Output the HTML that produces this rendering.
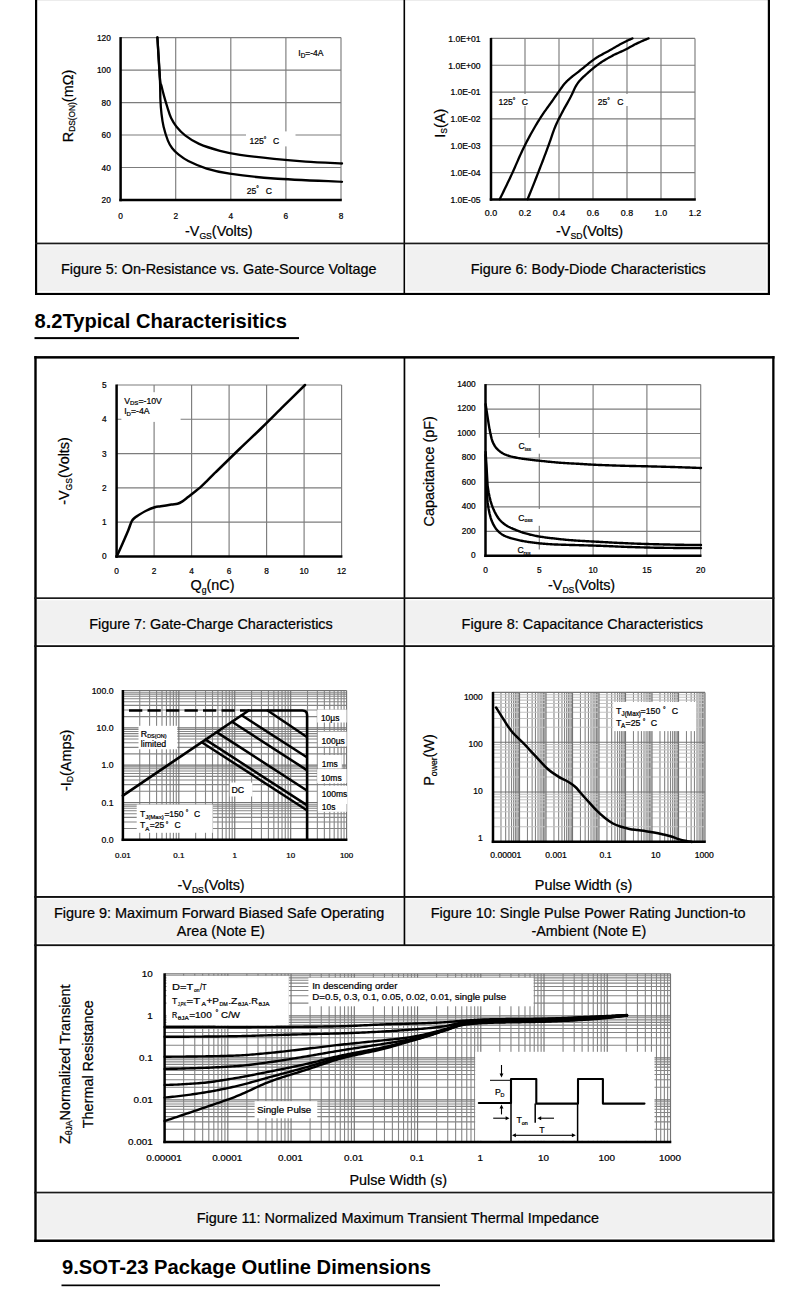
<!DOCTYPE html>
<html><head><meta charset="utf-8"><style>
html,body{margin:0;padding:0;background:#fff;overflow:hidden;}
svg{display:block;}
text{font-family:"Liberation Sans", sans-serif;stroke:#000;stroke-width:0.22px;}
</style></head><body>
<svg width="790" height="1303" viewBox="0 0 790 1303">
<rect x="0" y="0" width="790" height="1303" fill="#fff"/>
<rect x="38.00" y="245.50" width="365.00" height="45.50" fill="#f1f1f1"/>
<rect x="406.50" y="245.50" width="360.00" height="45.50" fill="#f1f1f1"/>
<rect x="37.00" y="0.00" width="731.00" height="1.00" fill="#ececec"/>
<rect x="35.00" y="0.00" width="2.20" height="295.00" fill="#000"/>
<rect x="767.80" y="0.00" width="2.20" height="295.00" fill="#000"/>
<rect x="403.50" y="0.00" width="1.60" height="294.00" fill="#000"/>
<rect x="35.00" y="242.60" width="735.00" height="1.70" fill="#1a1a1a"/>
<rect x="35.00" y="292.90" width="735.00" height="2.10" fill="#000"/>
<text x="34.50" y="327.70" font-size="20.1" text-anchor="start" font-weight="bold" fill="#000" textLength="252.50" lengthAdjust="spacingAndGlyphs" style="stroke-width:0">8.2Typical Characterisitics</text>
<rect x="34.50" y="337.10" width="264.50" height="2.00" fill="#000"/>
<rect x="37.00" y="600.30" width="366.00" height="43.30" fill="#f1f1f1"/>
<rect x="406.00" y="600.30" width="365.00" height="43.30" fill="#f1f1f1"/>
<rect x="37.00" y="899.30" width="366.00" height="43.40" fill="#f1f1f1"/>
<rect x="406.00" y="899.30" width="365.00" height="43.40" fill="#f1f1f1"/>
<rect x="37.50" y="1194.60" width="733.50" height="43.30" fill="#f1f1f1"/>
<rect x="34.30" y="356.10" width="740.20" height="2.50" fill="#000"/>
<rect x="34.30" y="356.10" width="2.40" height="886.00" fill="#000"/>
<rect x="772.20" y="356.10" width="2.30" height="886.00" fill="#000"/>
<rect x="34.30" y="1239.50" width="740.20" height="2.50" fill="#000"/>
<rect x="403.60" y="357.00" width="1.70" height="589.00" fill="#000"/>
<rect x="34.30" y="597.30" width="740.00" height="1.70" fill="#1a1a1a"/>
<rect x="34.30" y="645.20" width="740.00" height="1.80" fill="#111"/>
<rect x="34.30" y="896.00" width="740.00" height="1.90" fill="#111"/>
<rect x="34.30" y="944.30" width="740.00" height="1.80" fill="#111"/>
<rect x="34.30" y="1191.70" width="740.00" height="1.70" fill="#1a1a1a"/>
<text x="62.00" y="1274.20" font-size="20.2" text-anchor="start" font-weight="bold" fill="#000" textLength="369.00" lengthAdjust="spacingAndGlyphs" style="stroke-width:0">9.SOT-23 Package Outline Dimensions</text>
<rect x="61.50" y="1284.50" width="378.50" height="1.70" fill="#000"/>
<text x="61.00" y="273.80" font-size="14.4" text-anchor="start" font-weight="normal" fill="#000" textLength="315.50" lengthAdjust="spacingAndGlyphs" >Figure 5: On-Resistance vs. Gate-Source Voltage</text>
<text x="470.80" y="273.60" font-size="14.4" text-anchor="start" font-weight="normal" fill="#000" textLength="235.00" lengthAdjust="spacingAndGlyphs" >Figure 6: Body-Diode Characteristics</text>
<text x="89.20" y="629.10" font-size="14.4" text-anchor="start" font-weight="normal" fill="#000" textLength="243.60" lengthAdjust="spacingAndGlyphs" >Figure 7: Gate-Charge Characteristics</text>
<text x="461.60" y="628.80" font-size="14.4" text-anchor="start" font-weight="normal" fill="#000" textLength="241.40" lengthAdjust="spacingAndGlyphs" >Figure 8: Capacitance Characteristics</text>
<text x="54.00" y="917.50" font-size="14.4" text-anchor="start" font-weight="normal" fill="#000" textLength="330.30" lengthAdjust="spacingAndGlyphs" >Figure 9: Maximum Forward Biased Safe Operating</text>
<text x="176.80" y="936.30" font-size="14.4" text-anchor="start" font-weight="normal" fill="#000" textLength="88.00" lengthAdjust="spacingAndGlyphs" >Area (Note E)</text>
<text x="430.80" y="917.50" font-size="14.4" text-anchor="start" font-weight="normal" fill="#000" textLength="314.70" lengthAdjust="spacingAndGlyphs" >Figure 10: Single Pulse Power Rating Junction-to</text>
<text x="531.50" y="936.30" font-size="14.4" text-anchor="start" font-weight="normal" fill="#000" textLength="114.70" lengthAdjust="spacingAndGlyphs" >-Ambient (Note E)</text>
<text x="196.70" y="1223.00" font-size="14.4" text-anchor="start" font-weight="normal" fill="#000" textLength="402.30" lengthAdjust="spacingAndGlyphs" >Figure 11: Normalized Maximum Transient Thermal Impedance</text>
<line x1="175.70" y1="37.60" x2="175.70" y2="200.00" stroke="#7c7c7c" stroke-width="1.15" />
<line x1="230.80" y1="37.60" x2="230.80" y2="200.00" stroke="#7c7c7c" stroke-width="1.15" />
<line x1="285.90" y1="37.60" x2="285.90" y2="200.00" stroke="#7c7c7c" stroke-width="1.15" />
<line x1="341.00" y1="37.60" x2="341.00" y2="200.00" stroke="#7c7c7c" stroke-width="1.15" />
<line x1="120.60" y1="167.52" x2="341.00" y2="167.52" stroke="#7c7c7c" stroke-width="1.15" />
<line x1="120.60" y1="135.04" x2="341.00" y2="135.04" stroke="#7c7c7c" stroke-width="1.15" />
<line x1="120.60" y1="102.56" x2="341.00" y2="102.56" stroke="#7c7c7c" stroke-width="1.15" />
<line x1="120.60" y1="70.08" x2="341.00" y2="70.08" stroke="#7c7c7c" stroke-width="1.15" />
<line x1="120.60" y1="37.60" x2="341.00" y2="37.60" stroke="#7c7c7c" stroke-width="1.15" />
<rect x="246.00" y="131.40" width="49.50" height="15.00" fill="#fff"/>
<path d="M157.40,37.50 C157.82,44.30 159.22,70.23 159.90,78.30 C160.58,86.37 160.78,82.85 161.50,85.90 C162.22,88.95 163.22,93.03 164.20,96.60 C165.18,100.17 166.25,103.72 167.40,107.30 C168.55,110.88 169.58,114.87 171.10,118.10 C172.62,121.33 174.17,123.83 176.50,126.70 C178.83,129.57 181.33,132.43 185.10,135.30 C188.87,138.17 193.28,141.32 199.10,143.90 C204.92,146.48 213.18,148.98 220.00,150.80 C226.82,152.62 231.00,153.45 240.00,154.80 C249.00,156.15 263.05,157.75 274.00,158.90 C284.95,160.05 294.37,160.93 305.70,161.70 C317.03,162.47 335.95,163.20 342.00,163.50" fill="none" stroke="#000" stroke-width="2.3" stroke-linejoin="round" stroke-linecap="round" />
<path d="M157.40,37.50 C157.82,44.30 159.40,67.92 159.90,78.30 C160.40,88.68 160.13,93.88 160.40,99.80 C160.67,105.72 160.97,109.32 161.50,113.80 C162.03,118.28 162.53,122.23 163.60,126.70 C164.67,131.17 166.47,137.02 167.90,140.60 C169.33,144.18 170.40,145.87 172.20,148.20 C174.00,150.53 176.02,152.47 178.70,154.60 C181.38,156.73 183.65,158.67 188.30,161.00 C192.95,163.33 199.70,166.48 206.60,168.60 C213.50,170.72 218.47,172.05 229.70,173.70 C240.93,175.35 255.28,177.15 274.00,178.50 C292.72,179.85 330.67,181.25 342.00,181.80" fill="none" stroke="#000" stroke-width="2.3" stroke-linejoin="round" stroke-linecap="round" />
<line x1="120.60" y1="37.10" x2="120.60" y2="201.25" stroke="#000" stroke-width="2.5" />
<line x1="119.35" y1="200.00" x2="341.80" y2="200.00" stroke="#000" stroke-width="2.5" />
<text x="110.80" y="203.00" font-size="8.3" text-anchor="end" font-weight="normal" fill="#000" >20</text>
<text x="110.80" y="170.52" font-size="8.3" text-anchor="end" font-weight="normal" fill="#000" >40</text>
<text x="110.80" y="138.04" font-size="8.3" text-anchor="end" font-weight="normal" fill="#000" >60</text>
<text x="110.80" y="105.56" font-size="8.3" text-anchor="end" font-weight="normal" fill="#000" >80</text>
<text x="110.80" y="73.08" font-size="8.3" text-anchor="end" font-weight="normal" fill="#000" >100</text>
<text x="110.80" y="40.60" font-size="8.3" text-anchor="end" font-weight="normal" fill="#000" >120</text>
<text x="120.60" y="218.80" font-size="8.3" text-anchor="middle" font-weight="normal" fill="#000" >0</text>
<text x="175.70" y="218.80" font-size="8.3" text-anchor="middle" font-weight="normal" fill="#000" >2</text>
<text x="230.80" y="218.80" font-size="8.3" text-anchor="middle" font-weight="normal" fill="#000" >4</text>
<text x="285.90" y="218.80" font-size="8.3" text-anchor="middle" font-weight="normal" fill="#000" >6</text>
<text x="341.00" y="218.80" font-size="8.3" text-anchor="middle" font-weight="normal" fill="#000" >8</text>
<text x="249.50" y="144.20" text-anchor="start" ><tspan font-size="8.60" dy="0">125</tspan><tspan font-size="6.45" dy="-2.5">°</tspan></text>
<text x="272.90" y="144.20" font-size="8.6" text-anchor="start" font-weight="normal" fill="#000" >C</text>
<text x="246.70" y="193.60" text-anchor="start" ><tspan font-size="8.60" dy="0">25</tspan><tspan font-size="6.45" dy="-2.5">°</tspan></text>
<text x="265.70" y="193.60" font-size="8.6" text-anchor="start" font-weight="normal" fill="#000" >C</text>
<text x="298.30" y="56.20" text-anchor="start" ><tspan font-size="8.50" dy="0">I</tspan><tspan font-size="6.38" dy="2">D</tspan><tspan font-size="8.50" dy="-2">=-4A</tspan></text>
<text x="0" y="0" text-anchor="middle" transform="translate(72.50,106.00) rotate(-90)"><tspan font-size="14.40" dy="0">R</tspan><tspan font-size="8.35" dy="2.5">DS(ON)</tspan><tspan font-size="14.40" dy="-2.5">(mΩ)</tspan></text>
<text x="185.00" y="236.00" text-anchor="start" ><tspan font-size="14.40" dy="0">-V</tspan><tspan font-size="8.64" dy="2.5">GS</tspan><tspan font-size="14.40" dy="-2.5">(Volts)</tspan></text>
<line x1="525.00" y1="38.40" x2="525.00" y2="199.40" stroke="#7c7c7c" stroke-width="1.15" />
<line x1="559.00" y1="38.40" x2="559.00" y2="199.40" stroke="#7c7c7c" stroke-width="1.15" />
<line x1="593.00" y1="38.40" x2="593.00" y2="199.40" stroke="#7c7c7c" stroke-width="1.15" />
<line x1="627.00" y1="38.40" x2="627.00" y2="199.40" stroke="#7c7c7c" stroke-width="1.15" />
<line x1="661.00" y1="38.40" x2="661.00" y2="199.40" stroke="#7c7c7c" stroke-width="1.15" />
<line x1="695.00" y1="38.40" x2="695.00" y2="199.40" stroke="#7c7c7c" stroke-width="1.15" />
<line x1="491.00" y1="38.40" x2="695.00" y2="38.40" stroke="#7c7c7c" stroke-width="1.15" />
<line x1="491.00" y1="65.23" x2="695.00" y2="65.23" stroke="#7c7c7c" stroke-width="1.15" />
<line x1="491.00" y1="92.07" x2="695.00" y2="92.07" stroke="#7c7c7c" stroke-width="1.15" />
<line x1="491.00" y1="118.90" x2="695.00" y2="118.90" stroke="#7c7c7c" stroke-width="1.15" />
<line x1="491.00" y1="145.73" x2="695.00" y2="145.73" stroke="#7c7c7c" stroke-width="1.15" />
<line x1="491.00" y1="172.57" x2="695.00" y2="172.57" stroke="#7c7c7c" stroke-width="1.15" />
<rect x="495.00" y="94.00" width="36.00" height="12.00" fill="#fff"/>
<rect x="594.00" y="94.00" width="34.00" height="12.00" fill="#fff"/>
<path d="M499.70,199.20 L500.70,197.20 L501.70,195.19 L502.70,193.16 L503.70,191.13 L504.70,189.08 L505.70,187.02 L506.70,184.95 L507.70,182.86 L508.70,180.76 L509.70,178.65 L510.70,176.53 L511.70,174.38 L512.70,172.18 L513.70,169.95 L514.70,167.69 L515.70,165.41 L516.70,163.13 L517.70,160.85 L518.70,158.57 L519.70,156.32 L520.70,154.10 L521.70,151.92 L522.70,149.78 L523.70,147.71 L524.70,145.70 L525.70,143.72 L526.70,141.77 L527.70,139.86 L528.70,137.97 L529.70,136.11 L530.70,134.28 L531.70,132.48 L532.70,130.70 L533.70,128.95 L534.70,127.23 L535.70,125.53 L536.70,123.86 L537.70,122.22 L538.70,120.60 L539.70,119.01 L540.70,117.45 L541.70,115.91 L542.70,114.40 L543.70,112.92 L544.70,111.47 L545.70,110.06 L546.70,108.66 L547.70,107.28 L548.70,105.91 L549.70,104.53 L550.70,103.14 L551.70,101.73 L552.70,100.31 L553.70,98.88 L554.70,97.45 L555.70,96.03 L556.70,94.61 L557.70,93.20 L558.70,91.80 L559.70,90.36 L560.70,88.91 L561.70,87.47 L562.70,86.07 L563.70,84.76 L564.70,83.54 L565.70,82.44 L566.70,81.42 L567.70,80.46 L568.70,79.55 L569.70,78.68 L570.70,77.81 L571.70,76.98 L572.70,76.19 L573.70,75.42 L574.70,74.67 L575.70,73.91 L576.70,73.14 L577.70,72.34 L578.70,71.55 L579.70,70.74 L580.70,69.94 L581.70,69.14 L582.70,68.34 L583.70,67.54 L584.70,66.73 L585.70,65.91 L586.70,65.09 L587.70,64.27 L588.70,63.45 L589.70,62.64 L590.70,61.84 L591.70,61.06 L592.70,60.30 L593.70,59.57 L594.70,58.87 L595.70,58.20 L596.70,57.57 L597.70,56.95 L598.70,56.36 L599.70,55.78 L600.70,55.22 L601.70,54.67 L602.70,54.13 L603.70,53.59 L604.70,53.06 L605.70,52.52 L606.70,51.99 L607.70,51.45 L608.70,50.90 L609.70,50.34 L610.70,49.78 L611.70,49.20 L612.70,48.62 L613.70,48.04 L614.70,47.46 L615.70,46.87 L616.70,46.29 L617.70,45.72 L618.70,45.15 L619.70,44.58 L620.70,44.03 L621.70,43.49 L622.70,42.96 L623.70,42.45 L624.70,41.95 L625.70,41.46 L626.70,40.99 L627.70,40.52 L628.70,40.06 L629.70,39.61 L630.70,39.17 L631.70,38.74 L632.50,38.40" fill="none" stroke="#000" stroke-width="2.3" stroke-linejoin="round" stroke-linecap="round" />
<path d="M527.60,199.20 L528.60,196.76 L529.60,194.30 L530.60,191.83 L531.60,189.35 L532.60,186.85 L533.60,184.34 L534.60,181.82 L535.60,179.29 L536.60,176.75 L537.60,174.19 L538.60,171.62 L539.60,169.04 L540.60,166.45 L541.60,163.84 L542.60,161.23 L543.60,158.60 L544.60,155.95 L545.60,153.30 L546.60,150.62 L547.60,147.93 L548.60,145.23 L549.60,142.43 L550.60,139.53 L551.60,136.60 L552.60,133.69 L553.60,130.88 L554.60,128.21 L555.60,125.77 L556.60,123.51 L557.60,121.37 L558.60,119.33 L559.60,117.36 L560.60,115.44 L561.60,113.53 L562.60,111.62 L563.60,109.74 L564.60,107.92 L565.60,106.13 L566.60,104.35 L567.60,102.58 L568.60,100.79 L569.60,98.96 L570.60,97.08 L571.60,95.09 L572.60,92.95 L573.60,90.74 L574.60,88.59 L575.60,86.58 L576.60,84.81 L577.60,83.33 L578.60,82.01 L579.60,80.81 L580.60,79.69 L581.60,78.63 L582.60,77.64 L583.60,76.69 L584.60,75.78 L585.60,74.89 L586.60,74.00 L587.60,73.11 L588.60,72.23 L589.60,71.35 L590.60,70.48 L591.60,69.62 L592.60,68.77 L593.60,67.93 L594.60,67.12 L595.60,66.32 L596.60,65.55 L597.60,64.80 L598.60,64.08 L599.60,63.39 L600.60,62.71 L601.60,62.05 L602.60,61.40 L603.60,60.77 L604.60,60.15 L605.60,59.54 L606.60,58.95 L607.60,58.37 L608.60,57.80 L609.60,57.24 L610.60,56.69 L611.60,56.15 L612.60,55.62 L613.60,55.09 L614.60,54.59 L615.60,54.10 L616.60,53.63 L617.60,53.17 L618.60,52.72 L619.60,52.28 L620.60,51.83 L621.60,51.38 L622.60,50.93 L623.60,50.47 L624.60,49.99 L625.60,49.50 L626.60,48.99 L627.60,48.46 L628.60,47.91 L629.60,47.35 L630.60,46.79 L631.60,46.23 L632.60,45.68 L633.60,45.13 L634.60,44.60 L635.60,44.09 L636.60,43.61 L637.60,43.13 L638.60,42.66 L639.60,42.20 L640.60,41.74 L641.60,41.29 L642.60,40.85 L643.60,40.42 L644.60,40.00 L645.60,39.59 L646.60,39.18 L647.60,38.79 L648.60,38.40" fill="none" stroke="#000" stroke-width="2.3" stroke-linejoin="round" stroke-linecap="round" />
<line x1="491.00" y1="37.90" x2="491.00" y2="200.65" stroke="#000" stroke-width="2.5" />
<line x1="489.75" y1="199.40" x2="695.80" y2="199.40" stroke="#000" stroke-width="2.5" />
<text x="480.50" y="41.70" font-size="8.6" text-anchor="end" font-weight="normal" fill="#000" >1.0E+01</text>
<text x="480.50" y="68.53" font-size="8.6" text-anchor="end" font-weight="normal" fill="#000" >1.0E+00</text>
<text x="480.50" y="95.37" font-size="8.6" text-anchor="end" font-weight="normal" fill="#000" >1.0E-01</text>
<text x="480.50" y="122.20" font-size="8.6" text-anchor="end" font-weight="normal" fill="#000" >1.0E-02</text>
<text x="480.50" y="149.03" font-size="8.6" text-anchor="end" font-weight="normal" fill="#000" >1.0E-03</text>
<text x="480.50" y="175.87" font-size="8.6" text-anchor="end" font-weight="normal" fill="#000" >1.0E-04</text>
<text x="480.50" y="202.70" font-size="8.6" text-anchor="end" font-weight="normal" fill="#000" >1.0E-05</text>
<text x="491.00" y="216.40" font-size="8.9" text-anchor="middle" font-weight="normal" fill="#000" >0.0</text>
<text x="525.00" y="216.40" font-size="8.9" text-anchor="middle" font-weight="normal" fill="#000" >0.2</text>
<text x="559.00" y="216.40" font-size="8.9" text-anchor="middle" font-weight="normal" fill="#000" >0.4</text>
<text x="593.00" y="216.40" font-size="8.9" text-anchor="middle" font-weight="normal" fill="#000" >0.6</text>
<text x="627.00" y="216.40" font-size="8.9" text-anchor="middle" font-weight="normal" fill="#000" >0.8</text>
<text x="661.00" y="216.40" font-size="8.9" text-anchor="middle" font-weight="normal" fill="#000" >1.0</text>
<text x="695.00" y="216.40" font-size="8.9" text-anchor="middle" font-weight="normal" fill="#000" >1.2</text>
<text x="498.40" y="105.00" text-anchor="start" ><tspan font-size="8.60" dy="0">125</tspan><tspan font-size="6.45" dy="-2.5">°</tspan></text>
<text x="521.70" y="105.00" font-size="8.6" text-anchor="start" font-weight="normal" fill="#000" >C</text>
<text x="597.80" y="105.00" text-anchor="start" ><tspan font-size="8.60" dy="0">25</tspan><tspan font-size="6.45" dy="-2.5">°</tspan></text>
<text x="617.20" y="105.00" font-size="8.6" text-anchor="start" font-weight="normal" fill="#000" >C</text>
<text x="0" y="0" text-anchor="middle" transform="translate(444.80,123.20) rotate(-90)"><tspan font-size="14.40" dy="0">I</tspan><tspan font-size="8.64" dy="2.5">S</tspan><tspan font-size="14.40" dy="-2.5">(A)</tspan></text>
<text x="556.00" y="236.20" text-anchor="start" ><tspan font-size="14.40" dy="0">-V</tspan><tspan font-size="8.64" dy="2.5">SD</tspan><tspan font-size="14.40" dy="-2.5">(Volts)</tspan></text>
<line x1="154.10" y1="385.00" x2="154.10" y2="556.40" stroke="#7c7c7c" stroke-width="1.15" />
<line x1="191.60" y1="385.00" x2="191.60" y2="556.40" stroke="#7c7c7c" stroke-width="1.15" />
<line x1="229.10" y1="385.00" x2="229.10" y2="556.40" stroke="#7c7c7c" stroke-width="1.15" />
<line x1="266.60" y1="385.00" x2="266.60" y2="556.40" stroke="#7c7c7c" stroke-width="1.15" />
<line x1="304.10" y1="385.00" x2="304.10" y2="556.40" stroke="#7c7c7c" stroke-width="1.15" />
<line x1="341.60" y1="385.00" x2="341.60" y2="556.40" stroke="#7c7c7c" stroke-width="1.15" />
<line x1="116.60" y1="522.12" x2="341.60" y2="522.12" stroke="#7c7c7c" stroke-width="1.15" />
<line x1="116.60" y1="487.84" x2="341.60" y2="487.84" stroke="#7c7c7c" stroke-width="1.15" />
<line x1="116.60" y1="453.56" x2="341.60" y2="453.56" stroke="#7c7c7c" stroke-width="1.15" />
<line x1="116.60" y1="419.28" x2="341.60" y2="419.28" stroke="#7c7c7c" stroke-width="1.15" />
<line x1="116.60" y1="385.00" x2="341.60" y2="385.00" stroke="#7c7c7c" stroke-width="1.15" />
<rect x="121.40" y="392.20" width="59.20" height="29.70" fill="#fff"/>
<path d="M116.70,556.60 C117.72,554.32 120.90,547.20 122.80,542.90 C124.70,538.60 126.63,534.37 128.10,530.80 C129.57,527.23 130.53,523.63 131.60,521.50 C132.67,519.37 133.43,519.00 134.50,518.00 C135.57,517.00 136.15,516.67 138.00,515.50 C139.85,514.33 142.82,512.38 145.60,511.00 C148.38,509.62 152.17,508.00 154.70,507.20 C157.23,506.40 158.02,506.63 160.80,506.20 C163.58,505.77 168.62,505.00 171.40,504.60 C174.18,504.20 175.73,504.30 177.50,503.80 C179.27,503.30 180.23,502.73 182.00,501.60 C183.77,500.47 186.07,498.55 188.10,497.00 C190.13,495.45 192.17,493.90 194.20,492.30 C196.23,490.70 198.28,489.18 200.30,487.40 C202.32,485.62 204.03,483.87 206.30,481.60 C208.57,479.33 211.87,475.82 213.90,473.80 C215.93,471.78 214.15,473.72 218.50,469.50 C222.85,465.28 232.75,455.50 240.00,448.50 C247.25,441.50 254.75,434.55 262.00,427.50 C269.25,420.45 276.33,413.28 283.50,406.20 C290.67,399.12 301.42,388.53 305.00,385.00" fill="none" stroke="#000" stroke-width="2.5" stroke-linejoin="round" stroke-linecap="round" />
<line x1="116.60" y1="384.50" x2="116.60" y2="557.65" stroke="#000" stroke-width="2.5" />
<line x1="115.35" y1="556.40" x2="342.40" y2="556.40" stroke="#000" stroke-width="2.5" />
<text x="106.60" y="559.40" font-size="8.3" text-anchor="end" font-weight="normal" fill="#000" >0</text>
<text x="106.60" y="525.12" font-size="8.3" text-anchor="end" font-weight="normal" fill="#000" >1</text>
<text x="106.60" y="490.84" font-size="8.3" text-anchor="end" font-weight="normal" fill="#000" >2</text>
<text x="106.60" y="456.56" font-size="8.3" text-anchor="end" font-weight="normal" fill="#000" >3</text>
<text x="106.60" y="422.28" font-size="8.3" text-anchor="end" font-weight="normal" fill="#000" >4</text>
<text x="106.60" y="388.00" font-size="8.3" text-anchor="end" font-weight="normal" fill="#000" >5</text>
<text x="116.60" y="574.20" font-size="8.3" text-anchor="middle" font-weight="normal" fill="#000" >0</text>
<text x="154.10" y="574.20" font-size="8.3" text-anchor="middle" font-weight="normal" fill="#000" >2</text>
<text x="191.60" y="574.20" font-size="8.3" text-anchor="middle" font-weight="normal" fill="#000" >4</text>
<text x="229.10" y="574.20" font-size="8.3" text-anchor="middle" font-weight="normal" fill="#000" >6</text>
<text x="266.60" y="574.20" font-size="8.3" text-anchor="middle" font-weight="normal" fill="#000" >8</text>
<text x="304.10" y="574.20" font-size="8.3" text-anchor="middle" font-weight="normal" fill="#000" >10</text>
<text x="341.60" y="574.20" font-size="8.3" text-anchor="middle" font-weight="normal" fill="#000" >12</text>
<text x="124.20" y="403.60" text-anchor="start" ><tspan font-size="8.70" dy="0">V</tspan><tspan font-size="6.09" dy="1.5">DS</tspan><tspan font-size="8.70" dy="-1.5">=-10V</tspan></text>
<text x="124.20" y="414.20" text-anchor="start" ><tspan font-size="8.70" dy="0">I</tspan><tspan font-size="6.09" dy="1.5">D</tspan><tspan font-size="8.70" dy="-1.5">=-4A</tspan></text>
<text x="0" y="0" text-anchor="middle" transform="translate(69.30,471.00) rotate(-90)"><tspan font-size="14.40" dy="0">-V</tspan><tspan font-size="8.64" dy="2.5">GS</tspan><tspan font-size="14.40" dy="-2.5">(Volts)</tspan></text>
<text x="190.50" y="590.00" text-anchor="start" ><tspan font-size="14.40" dy="0">Q</tspan><tspan font-size="8.64" dy="2.5">g</tspan><tspan font-size="14.40" dy="-2.5">(nC)</tspan></text>
<line x1="539.30" y1="384.60" x2="539.30" y2="555.80" stroke="#7c7c7c" stroke-width="1.15" />
<line x1="593.10" y1="384.60" x2="593.10" y2="555.80" stroke="#7c7c7c" stroke-width="1.15" />
<line x1="646.90" y1="384.60" x2="646.90" y2="555.80" stroke="#7c7c7c" stroke-width="1.15" />
<line x1="700.70" y1="384.60" x2="700.70" y2="555.80" stroke="#7c7c7c" stroke-width="1.15" />
<line x1="485.50" y1="531.34" x2="700.70" y2="531.34" stroke="#7c7c7c" stroke-width="1.15" />
<line x1="485.50" y1="506.89" x2="700.70" y2="506.89" stroke="#7c7c7c" stroke-width="1.15" />
<line x1="485.50" y1="482.43" x2="700.70" y2="482.43" stroke="#7c7c7c" stroke-width="1.15" />
<line x1="485.50" y1="457.97" x2="700.70" y2="457.97" stroke="#7c7c7c" stroke-width="1.15" />
<line x1="485.50" y1="433.51" x2="700.70" y2="433.51" stroke="#7c7c7c" stroke-width="1.15" />
<line x1="485.50" y1="409.06" x2="700.70" y2="409.06" stroke="#7c7c7c" stroke-width="1.15" />
<line x1="485.50" y1="384.60" x2="700.70" y2="384.60" stroke="#7c7c7c" stroke-width="1.15" />
<rect x="515.00" y="437.70" width="28.00" height="16.00" fill="#fff"/>
<rect x="515.00" y="509.00" width="28.00" height="16.80" fill="#fff"/>
<rect x="515.00" y="549.50" width="28.00" height="5.50" fill="#fff"/>
<path d="M485.60,404.30 L486.60,410.78 L487.60,417.13 L488.60,423.69 L489.60,429.60 L490.60,434.38 L491.60,438.61 L492.60,441.82 L493.60,443.97 L494.60,445.72 L495.60,447.17 L496.60,448.37 L497.60,449.39 L498.60,450.32 L499.60,451.16 L500.60,451.93 L501.60,452.63 L502.60,453.25 L503.60,453.80 L504.60,454.27 L505.60,454.69 L506.60,455.07 L507.60,455.42 L508.60,455.75 L509.60,456.05 L510.60,456.34 L511.60,456.60 L512.60,456.84 L513.60,457.08 L514.60,457.29 L515.60,457.50 L516.60,457.70 L517.60,457.89 L518.60,458.07 L519.60,458.24 L520.60,458.40 L521.60,458.56 L522.60,458.71 L523.60,458.85 L524.60,458.99 L525.60,459.13 L526.60,459.26 L527.60,459.39 L528.60,459.52 L529.60,459.65 L530.60,459.77 L531.60,459.90 L532.60,460.02 L533.60,460.13 L534.60,460.24 L535.60,460.35 L536.60,460.46 L537.60,460.56 L538.60,460.67 L539.60,460.77 L540.60,460.87 L541.60,460.98 L542.60,461.08 L543.60,461.18 L544.60,461.29 L545.60,461.39 L546.60,461.49 L547.60,461.59 L548.60,461.69 L549.60,461.79 L550.60,461.89 L551.60,461.99 L552.60,462.08 L553.60,462.18 L554.60,462.27 L555.60,462.36 L556.60,462.44 L557.60,462.53 L558.60,462.61 L559.60,462.69 L560.60,462.76 L561.60,462.84 L562.60,462.90 L563.60,462.97 L564.60,463.03 L565.60,463.10 L566.60,463.16 L567.60,463.21 L568.60,463.27 L569.60,463.33 L570.60,463.38 L571.60,463.44 L572.60,463.49 L573.60,463.54 L574.60,463.60 L575.60,463.65 L576.60,463.71 L577.60,463.76 L578.60,463.82 L579.60,463.88 L580.60,463.94 L581.60,464.00 L582.60,464.06 L583.60,464.13 L584.60,464.19 L585.60,464.26 L586.60,464.32 L587.60,464.39 L588.60,464.45 L589.60,464.51 L590.60,464.57 L591.60,464.62 L592.60,464.67 L593.60,464.72 L594.60,464.76 L595.60,464.81 L596.60,464.85 L597.60,464.90 L598.60,464.94 L599.60,464.98 L600.60,465.02 L601.60,465.06 L602.60,465.10 L603.60,465.14 L604.60,465.17 L605.60,465.21 L606.60,465.25 L607.60,465.28 L608.60,465.32 L609.60,465.35 L610.60,465.39 L611.60,465.42 L612.60,465.45 L613.60,465.48 L614.60,465.52 L615.60,465.55 L616.60,465.58 L617.60,465.61 L618.60,465.64 L619.60,465.67 L620.60,465.69 L621.60,465.72 L622.60,465.75 L623.60,465.78 L624.60,465.81 L625.60,465.83 L626.60,465.86 L627.60,465.88 L628.60,465.91 L629.60,465.93 L630.60,465.95 L631.60,465.97 L632.60,466.00 L633.60,466.02 L634.60,466.04 L635.60,466.06 L636.60,466.08 L637.60,466.10 L638.60,466.12 L639.60,466.14 L640.60,466.16 L641.60,466.18 L642.60,466.21 L643.60,466.23 L644.60,466.25 L645.60,466.28 L646.60,466.30 L647.60,466.32 L648.60,466.35 L649.60,466.38 L650.60,466.40 L651.60,466.43 L652.60,466.45 L653.60,466.48 L654.60,466.50 L655.60,466.53 L656.60,466.56 L657.60,466.58 L658.60,466.61 L659.60,466.64 L660.60,466.67 L661.60,466.69 L662.60,466.72 L663.60,466.75 L664.60,466.78 L665.60,466.81 L666.60,466.83 L667.60,466.86 L668.60,466.89 L669.60,466.92 L670.60,466.95 L671.60,466.98 L672.60,467.01 L673.60,467.04 L674.60,467.07 L675.60,467.10 L676.60,467.13 L677.60,467.17 L678.60,467.20 L679.60,467.23 L680.60,467.26 L681.60,467.29 L682.60,467.33 L683.60,467.36 L684.60,467.39 L685.60,467.43 L686.60,467.46 L687.60,467.50 L688.60,467.53 L689.60,467.57 L690.60,467.61 L691.60,467.64 L692.60,467.68 L693.60,467.72 L694.60,467.75 L695.60,467.79 L696.60,467.83 L697.60,467.87 L698.60,467.91 L699.60,467.95 L700.60,467.98 L701.00,468.00" fill="none" stroke="#000" stroke-width="2.4" stroke-linejoin="round" stroke-linecap="round" />
<path d="M485.60,452.00 L486.60,467.75 L487.60,485.60 L488.60,492.29 L489.60,497.03 L490.60,501.11 L491.60,504.40 L492.60,507.17 L493.60,509.60 L494.60,511.73 L495.60,513.64 L496.60,515.40 L497.60,517.01 L498.60,518.44 L499.60,519.69 L500.60,520.78 L501.60,521.77 L502.60,522.69 L503.60,523.52 L504.60,524.28 L505.60,524.97 L506.60,525.60 L507.60,526.18 L508.60,526.73 L509.60,527.24 L510.60,527.73 L511.60,528.19 L512.60,528.63 L513.60,529.06 L514.60,529.48 L515.60,529.89 L516.60,530.29 L517.60,530.69 L518.60,531.07 L519.60,531.44 L520.60,531.81 L521.60,532.15 L522.60,532.49 L523.60,532.81 L524.60,533.11 L525.60,533.40 L526.60,533.68 L527.60,533.95 L528.60,534.21 L529.60,534.47 L530.60,534.71 L531.60,534.95 L532.60,535.19 L533.60,535.41 L534.60,535.63 L535.60,535.83 L536.60,536.03 L537.60,536.22 L538.60,536.40 L539.60,536.57 L540.60,536.73 L541.60,536.88 L542.60,537.04 L543.60,537.18 L544.60,537.32 L545.60,537.46 L546.60,537.59 L547.60,537.72 L548.60,537.84 L549.60,537.96 L550.60,538.08 L551.60,538.20 L552.60,538.31 L553.60,538.43 L554.60,538.54 L555.60,538.65 L556.60,538.77 L557.60,538.88 L558.60,538.99 L559.60,539.10 L560.60,539.21 L561.60,539.32 L562.60,539.42 L563.60,539.52 L564.60,539.62 L565.60,539.72 L566.60,539.82 L567.60,539.91 L568.60,540.00 L569.60,540.08 L570.60,540.16 L571.60,540.24 L572.60,540.31 L573.60,540.38 L574.60,540.45 L575.60,540.52 L576.60,540.59 L577.60,540.65 L578.60,540.72 L579.60,540.78 L580.60,540.84 L581.60,540.90 L582.60,540.96 L583.60,541.02 L584.60,541.07 L585.60,541.13 L586.60,541.18 L587.60,541.24 L588.60,541.29 L589.60,541.35 L590.60,541.40 L591.60,541.45 L592.60,541.50 L593.60,541.56 L594.60,541.61 L595.60,541.66 L596.60,541.72 L597.60,541.77 L598.60,541.82 L599.60,541.88 L600.60,541.93 L601.60,541.99 L602.60,542.04 L603.60,542.10 L604.60,542.15 L605.60,542.21 L606.60,542.26 L607.60,542.32 L608.60,542.37 L609.60,542.43 L610.60,542.48 L611.60,542.53 L612.60,542.58 L613.60,542.64 L614.60,542.69 L615.60,542.74 L616.60,542.79 L617.60,542.84 L618.60,542.88 L619.60,542.93 L620.60,542.98 L621.60,543.02 L622.60,543.07 L623.60,543.11 L624.60,543.16 L625.60,543.20 L626.60,543.25 L627.60,543.29 L628.60,543.34 L629.60,543.38 L630.60,543.42 L631.60,543.47 L632.60,543.51 L633.60,543.55 L634.60,543.59 L635.60,543.63 L636.60,543.67 L637.60,543.71 L638.60,543.75 L639.60,543.78 L640.60,543.82 L641.60,543.85 L642.60,543.88 L643.60,543.91 L644.60,543.94 L645.60,543.97 L646.60,544.00 L647.60,544.03 L648.60,544.05 L649.60,544.08 L650.60,544.10 L651.60,544.13 L652.60,544.16 L653.60,544.18 L654.60,544.21 L655.60,544.23 L656.60,544.26 L657.60,544.28 L658.60,544.31 L659.60,544.33 L660.60,544.36 L661.60,544.38 L662.60,544.40 L663.60,544.43 L664.60,544.45 L665.60,544.47 L666.60,544.50 L667.60,544.52 L668.60,544.54 L669.60,544.56 L670.60,544.58 L671.60,544.60 L672.60,544.63 L673.60,544.65 L674.60,544.67 L675.60,544.68 L676.60,544.70 L677.60,544.72 L678.60,544.74 L679.60,544.76 L680.60,544.78 L681.60,544.79 L682.60,544.81 L683.60,544.82 L684.60,544.84 L685.60,544.85 L686.60,544.87 L687.60,544.88 L688.60,544.89 L689.60,544.91 L690.60,544.92 L691.60,544.93 L692.60,544.94 L693.60,544.95 L694.60,544.96 L695.60,544.97 L696.60,544.97 L697.60,544.98 L698.60,544.99 L699.60,544.99 L700.60,545.00 L701.00,545.00" fill="none" stroke="#000" stroke-width="2.4" stroke-linejoin="round" stroke-linecap="round" />
<path d="M485.60,455.00 L486.60,488.63 L487.60,502.21 L488.60,508.91 L489.60,513.70 L490.60,517.52 L491.60,520.52 L492.60,522.90 L493.60,524.93 L494.60,526.69 L495.60,528.20 L496.60,529.48 L497.60,530.61 L498.60,531.64 L499.60,532.58 L500.60,533.41 L501.60,534.15 L502.60,534.79 L503.60,535.33 L504.60,535.83 L505.60,536.28 L506.60,536.70 L507.60,537.07 L508.60,537.43 L509.60,537.75 L510.60,538.06 L511.60,538.36 L512.60,538.64 L513.60,538.92 L514.60,539.18 L515.60,539.44 L516.60,539.68 L517.60,539.92 L518.60,540.14 L519.60,540.36 L520.60,540.57 L521.60,540.77 L522.60,540.97 L523.60,541.15 L524.60,541.33 L525.60,541.50 L526.60,541.66 L527.60,541.83 L528.60,541.98 L529.60,542.13 L530.60,542.28 L531.60,542.42 L532.60,542.55 L533.60,542.68 L534.60,542.80 L535.60,542.92 L536.60,543.04 L537.60,543.14 L538.60,543.24 L539.60,543.34 L540.60,543.43 L541.60,543.52 L542.60,543.61 L543.60,543.69 L544.60,543.78 L545.60,543.86 L546.60,543.93 L547.60,544.01 L548.60,544.08 L549.60,544.15 L550.60,544.21 L551.60,544.27 L552.60,544.33 L553.60,544.39 L554.60,544.44 L555.60,544.48 L556.60,544.53 L557.60,544.57 L558.60,544.60 L559.60,544.64 L560.60,544.67 L561.60,544.71 L562.60,544.74 L563.60,544.77 L564.60,544.80 L565.60,544.82 L566.60,544.85 L567.60,544.88 L568.60,544.90 L569.60,544.93 L570.60,544.95 L571.60,544.98 L572.60,545.00 L573.60,545.03 L574.60,545.05 L575.60,545.08 L576.60,545.11 L577.60,545.13 L578.60,545.16 L579.60,545.19 L580.60,545.22 L581.60,545.25 L582.60,545.28 L583.60,545.30 L584.60,545.33 L585.60,545.36 L586.60,545.39 L587.60,545.42 L588.60,545.45 L589.60,545.48 L590.60,545.51 L591.60,545.54 L592.60,545.56 L593.60,545.59 L594.60,545.63 L595.60,545.66 L596.60,545.69 L597.60,545.72 L598.60,545.75 L599.60,545.79 L600.60,545.82 L601.60,545.86 L602.60,545.89 L603.60,545.93 L604.60,545.97 L605.60,546.01 L606.60,546.06 L607.60,546.10 L608.60,546.14 L609.60,546.18 L610.60,546.23 L611.60,546.27 L612.60,546.32 L613.60,546.36 L614.60,546.41 L615.60,546.45 L616.60,546.50 L617.60,546.54 L618.60,546.59 L619.60,546.63 L620.60,546.67 L621.60,546.71 L622.60,546.76 L623.60,546.80 L624.60,546.83 L625.60,546.87 L626.60,546.91 L627.60,546.94 L628.60,546.97 L629.60,547.01 L630.60,547.04 L631.60,547.07 L632.60,547.10 L633.60,547.13 L634.60,547.16 L635.60,547.19 L636.60,547.22 L637.60,547.25 L638.60,547.28 L639.60,547.31 L640.60,547.33 L641.60,547.36 L642.60,547.39 L643.60,547.42 L644.60,547.44 L645.60,547.47 L646.60,547.50 L647.60,547.52 L648.60,547.55 L649.60,547.57 L650.60,547.59 L651.60,547.62 L652.60,547.64 L653.60,547.66 L654.60,547.68 L655.60,547.70 L656.60,547.71 L657.60,547.73 L658.60,547.75 L659.60,547.76 L660.60,547.78 L661.60,547.79 L662.60,547.80 L663.60,547.82 L664.60,547.83 L665.60,547.84 L666.60,547.85 L667.60,547.86 L668.60,547.87 L669.60,547.89 L670.60,547.90 L671.60,547.91 L672.60,547.92 L673.60,547.93 L674.60,547.94 L675.60,547.95 L676.60,547.96 L677.60,547.97 L678.60,547.98 L679.60,547.99 L680.60,548.00 L681.60,548.01 L682.60,548.02 L683.60,548.02 L684.60,548.03 L685.60,548.04 L686.60,548.05 L687.60,548.05 L688.60,548.06 L689.60,548.07 L690.60,548.07 L691.60,548.08 L692.60,548.08 L693.60,548.08 L694.60,548.09 L695.60,548.09 L696.60,548.09 L697.60,548.10 L698.60,548.10 L699.60,548.10 L700.60,548.10 L701.00,548.10" fill="none" stroke="#000" stroke-width="2.4" stroke-linejoin="round" stroke-linecap="round" />
<line x1="485.50" y1="384.10" x2="485.50" y2="557.05" stroke="#000" stroke-width="2.5" />
<line x1="484.25" y1="555.80" x2="701.50" y2="555.80" stroke="#000" stroke-width="2.5" />
<text x="475.70" y="558.10" font-size="8.3" text-anchor="end" font-weight="normal" fill="#000" >0</text>
<text x="475.70" y="533.64" font-size="8.3" text-anchor="end" font-weight="normal" fill="#000" >200</text>
<text x="475.70" y="509.19" font-size="8.3" text-anchor="end" font-weight="normal" fill="#000" >400</text>
<text x="475.70" y="484.73" font-size="8.3" text-anchor="end" font-weight="normal" fill="#000" >600</text>
<text x="475.70" y="460.27" font-size="8.3" text-anchor="end" font-weight="normal" fill="#000" >800</text>
<text x="475.70" y="435.81" font-size="8.3" text-anchor="end" font-weight="normal" fill="#000" >1000</text>
<text x="475.70" y="411.36" font-size="8.3" text-anchor="end" font-weight="normal" fill="#000" >1200</text>
<text x="475.70" y="386.90" font-size="8.3" text-anchor="end" font-weight="normal" fill="#000" >1400</text>
<text x="485.50" y="573.00" font-size="8.3" text-anchor="middle" font-weight="normal" fill="#000" >0</text>
<text x="539.30" y="573.00" font-size="8.3" text-anchor="middle" font-weight="normal" fill="#000" >5</text>
<text x="593.10" y="573.00" font-size="8.3" text-anchor="middle" font-weight="normal" fill="#000" >10</text>
<text x="646.90" y="573.00" font-size="8.3" text-anchor="middle" font-weight="normal" fill="#000" >15</text>
<text x="700.70" y="573.00" font-size="8.3" text-anchor="middle" font-weight="normal" fill="#000" >20</text>
<text x="518.60" y="449.10" text-anchor="start" ><tspan font-size="8.60" dy="0">C</tspan><tspan font-size="5.16" dy="1.5">iss</tspan></text>
<text x="518.30" y="520.50" text-anchor="start" ><tspan font-size="8.60" dy="0">C</tspan><tspan font-size="5.16" dy="1.5">oss</tspan></text>
<text x="517.40" y="553.20" text-anchor="start" ><tspan font-size="8.60" dy="0">C</tspan><tspan font-size="5.16" dy="1.5">rss</tspan></text>
<text x="0" y="0" text-anchor="middle" transform="translate(433.60,471.30) rotate(-90)"><tspan font-size="14.40" dy="0">Capacitance (pF)</tspan></text>
<text x="548.00" y="590.00" text-anchor="start" ><tspan font-size="14.40" dy="0">-V</tspan><tspan font-size="8.64" dy="2.5">DS</tspan><tspan font-size="14.40" dy="-2.5">(Volts)</tspan></text>
<line x1="139.74" y1="690.50" x2="139.74" y2="839.80" stroke="#858585" stroke-width="1.1" />
<line x1="149.58" y1="690.50" x2="149.58" y2="839.80" stroke="#858585" stroke-width="1.1" />
<line x1="156.57" y1="690.50" x2="156.57" y2="839.80" stroke="#858585" stroke-width="1.1" />
<line x1="161.99" y1="690.50" x2="161.99" y2="839.80" stroke="#858585" stroke-width="1.1" />
<line x1="166.42" y1="690.50" x2="166.42" y2="839.80" stroke="#858585" stroke-width="1.1" />
<line x1="170.16" y1="690.50" x2="170.16" y2="839.80" stroke="#858585" stroke-width="1.1" />
<line x1="173.41" y1="690.50" x2="173.41" y2="839.80" stroke="#858585" stroke-width="1.1" />
<line x1="176.27" y1="690.50" x2="176.27" y2="839.80" stroke="#858585" stroke-width="1.1" />
<line x1="195.66" y1="690.50" x2="195.66" y2="839.80" stroke="#858585" stroke-width="1.1" />
<line x1="205.51" y1="690.50" x2="205.51" y2="839.80" stroke="#858585" stroke-width="1.1" />
<line x1="212.50" y1="690.50" x2="212.50" y2="839.80" stroke="#858585" stroke-width="1.1" />
<line x1="217.91" y1="690.50" x2="217.91" y2="839.80" stroke="#858585" stroke-width="1.1" />
<line x1="222.34" y1="690.50" x2="222.34" y2="839.80" stroke="#858585" stroke-width="1.1" />
<line x1="226.09" y1="690.50" x2="226.09" y2="839.80" stroke="#858585" stroke-width="1.1" />
<line x1="229.33" y1="690.50" x2="229.33" y2="839.80" stroke="#858585" stroke-width="1.1" />
<line x1="232.19" y1="690.50" x2="232.19" y2="839.80" stroke="#858585" stroke-width="1.1" />
<line x1="251.59" y1="690.50" x2="251.59" y2="839.80" stroke="#858585" stroke-width="1.1" />
<line x1="261.43" y1="690.50" x2="261.43" y2="839.80" stroke="#858585" stroke-width="1.1" />
<line x1="268.42" y1="690.50" x2="268.42" y2="839.80" stroke="#858585" stroke-width="1.1" />
<line x1="273.84" y1="690.50" x2="273.84" y2="839.80" stroke="#858585" stroke-width="1.1" />
<line x1="278.27" y1="690.50" x2="278.27" y2="839.80" stroke="#858585" stroke-width="1.1" />
<line x1="282.01" y1="690.50" x2="282.01" y2="839.80" stroke="#858585" stroke-width="1.1" />
<line x1="285.26" y1="690.50" x2="285.26" y2="839.80" stroke="#858585" stroke-width="1.1" />
<line x1="288.12" y1="690.50" x2="288.12" y2="839.80" stroke="#858585" stroke-width="1.1" />
<line x1="307.51" y1="690.50" x2="307.51" y2="839.80" stroke="#858585" stroke-width="1.1" />
<line x1="317.36" y1="690.50" x2="317.36" y2="839.80" stroke="#858585" stroke-width="1.1" />
<line x1="324.35" y1="690.50" x2="324.35" y2="839.80" stroke="#858585" stroke-width="1.1" />
<line x1="329.76" y1="690.50" x2="329.76" y2="839.80" stroke="#858585" stroke-width="1.1" />
<line x1="334.19" y1="690.50" x2="334.19" y2="839.80" stroke="#858585" stroke-width="1.1" />
<line x1="337.94" y1="690.50" x2="337.94" y2="839.80" stroke="#858585" stroke-width="1.1" />
<line x1="341.18" y1="690.50" x2="341.18" y2="839.80" stroke="#858585" stroke-width="1.1" />
<line x1="344.04" y1="690.50" x2="344.04" y2="839.80" stroke="#858585" stroke-width="1.1" />
<line x1="122.90" y1="828.56" x2="346.60" y2="828.56" stroke="#858585" stroke-width="1.1" />
<line x1="122.90" y1="821.99" x2="346.60" y2="821.99" stroke="#858585" stroke-width="1.1" />
<line x1="122.90" y1="817.33" x2="346.60" y2="817.33" stroke="#858585" stroke-width="1.1" />
<line x1="122.90" y1="813.71" x2="346.60" y2="813.71" stroke="#858585" stroke-width="1.1" />
<line x1="122.90" y1="810.76" x2="346.60" y2="810.76" stroke="#858585" stroke-width="1.1" />
<line x1="122.90" y1="808.26" x2="346.60" y2="808.26" stroke="#858585" stroke-width="1.1" />
<line x1="122.90" y1="806.09" x2="346.60" y2="806.09" stroke="#858585" stroke-width="1.1" />
<line x1="122.90" y1="804.18" x2="346.60" y2="804.18" stroke="#858585" stroke-width="1.1" />
<line x1="122.90" y1="791.24" x2="346.60" y2="791.24" stroke="#858585" stroke-width="1.1" />
<line x1="122.90" y1="784.67" x2="346.60" y2="784.67" stroke="#858585" stroke-width="1.1" />
<line x1="122.90" y1="780.00" x2="346.60" y2="780.00" stroke="#858585" stroke-width="1.1" />
<line x1="122.90" y1="776.39" x2="346.60" y2="776.39" stroke="#858585" stroke-width="1.1" />
<line x1="122.90" y1="773.43" x2="346.60" y2="773.43" stroke="#858585" stroke-width="1.1" />
<line x1="122.90" y1="770.93" x2="346.60" y2="770.93" stroke="#858585" stroke-width="1.1" />
<line x1="122.90" y1="768.77" x2="346.60" y2="768.77" stroke="#858585" stroke-width="1.1" />
<line x1="122.90" y1="766.86" x2="346.60" y2="766.86" stroke="#858585" stroke-width="1.1" />
<line x1="122.90" y1="753.91" x2="346.60" y2="753.91" stroke="#858585" stroke-width="1.1" />
<line x1="122.90" y1="747.34" x2="346.60" y2="747.34" stroke="#858585" stroke-width="1.1" />
<line x1="122.90" y1="742.68" x2="346.60" y2="742.68" stroke="#858585" stroke-width="1.1" />
<line x1="122.90" y1="739.06" x2="346.60" y2="739.06" stroke="#858585" stroke-width="1.1" />
<line x1="122.90" y1="736.11" x2="346.60" y2="736.11" stroke="#858585" stroke-width="1.1" />
<line x1="122.90" y1="733.61" x2="346.60" y2="733.61" stroke="#858585" stroke-width="1.1" />
<line x1="122.90" y1="731.44" x2="346.60" y2="731.44" stroke="#858585" stroke-width="1.1" />
<line x1="122.90" y1="729.53" x2="346.60" y2="729.53" stroke="#858585" stroke-width="1.1" />
<line x1="122.90" y1="716.59" x2="346.60" y2="716.59" stroke="#858585" stroke-width="1.1" />
<line x1="122.90" y1="710.02" x2="346.60" y2="710.02" stroke="#858585" stroke-width="1.1" />
<line x1="122.90" y1="705.35" x2="346.60" y2="705.35" stroke="#858585" stroke-width="1.1" />
<line x1="122.90" y1="701.74" x2="346.60" y2="701.74" stroke="#858585" stroke-width="1.1" />
<line x1="122.90" y1="698.78" x2="346.60" y2="698.78" stroke="#858585" stroke-width="1.1" />
<line x1="122.90" y1="696.28" x2="346.60" y2="696.28" stroke="#858585" stroke-width="1.1" />
<line x1="122.90" y1="694.12" x2="346.60" y2="694.12" stroke="#858585" stroke-width="1.1" />
<line x1="122.90" y1="692.21" x2="346.60" y2="692.21" stroke="#858585" stroke-width="1.1" />
<line x1="178.83" y1="690.50" x2="178.83" y2="839.80" stroke="#737373" stroke-width="1.15" />
<line x1="234.75" y1="690.50" x2="234.75" y2="839.80" stroke="#737373" stroke-width="1.15" />
<line x1="290.68" y1="690.50" x2="290.68" y2="839.80" stroke="#737373" stroke-width="1.15" />
<line x1="346.60" y1="690.50" x2="346.60" y2="839.80" stroke="#737373" stroke-width="1.15" />
<line x1="122.90" y1="802.47" x2="346.60" y2="802.47" stroke="#737373" stroke-width="1.15" />
<line x1="122.90" y1="765.15" x2="346.60" y2="765.15" stroke="#737373" stroke-width="1.15" />
<line x1="122.90" y1="727.83" x2="346.60" y2="727.83" stroke="#737373" stroke-width="1.15" />
<line x1="122.90" y1="690.50" x2="346.60" y2="690.50" stroke="#737373" stroke-width="1.15" />
<rect x="138.50" y="725.80" width="38.80" height="23.50" fill="#fff"/>
<rect x="229.80" y="782.50" width="22.60" height="14.00" fill="#fff"/>
<rect x="136.70" y="804.60" width="76.00" height="28.20" fill="#fff"/>
<rect x="317.20" y="709.60" width="29.40" height="12.90" fill="#fff"/>
<rect x="317.80" y="731.70" width="28.80" height="14.70" fill="#fff"/>
<rect x="317.80" y="755.00" width="24.00" height="13.50" fill="#fff"/>
<rect x="317.20" y="769.10" width="29.40" height="14.20" fill="#fff"/>
<rect x="317.80" y="785.70" width="29.40" height="18.30" fill="#fff"/>
<rect x="317.80" y="804.00" width="28.80" height="7.80" fill="#fff"/>
<line x1="122.90" y1="710.50" x2="248.70" y2="710.50" stroke="#000" stroke-width="2.5" stroke-dasharray="13.3,5.2" stroke-dashoffset="12.4"/>
<path d="M248.7,710.5 L302.4,710.5 Q307.1,710.5 307.1,715.2 L307.1,839.8" fill="none" stroke="#000" stroke-width="2.6" stroke-linejoin="round" stroke-linecap="round" />
<path d="M122.9,795.54 L248.7,710.5" fill="none" stroke="#000" stroke-width="2.7" stroke-linejoin="round" stroke-linecap="round" />
<path d="M267.6,710.5 L306.5,736.8" fill="none" stroke="#000" stroke-width="2.5" stroke-linejoin="round" stroke-linecap="round" />
<path d="M241.72,715.22 L306.5,757.0" fill="none" stroke="#000" stroke-width="2.5" stroke-linejoin="round" stroke-linecap="round" />
<path d="M231.99,721.80 L306.5,769.9" fill="none" stroke="#000" stroke-width="2.5" stroke-linejoin="round" stroke-linecap="round" />
<path d="M216.68,732.14 L306.5,790.2" fill="none" stroke="#000" stroke-width="2.5" stroke-linejoin="round" stroke-linecap="round" />
<path d="M205.60,739.64 L306.5,804.9" fill="none" stroke="#000" stroke-width="2.5" stroke-linejoin="round" stroke-linecap="round" />
<path d="M201.75,742.24 L306.5,810.0" fill="none" stroke="#000" stroke-width="2.5" stroke-linejoin="round" stroke-linecap="round" />
<line x1="122.90" y1="690.00" x2="122.90" y2="841.05" stroke="#000" stroke-width="2.5" />
<line x1="121.65" y1="839.80" x2="347.40" y2="839.80" stroke="#000" stroke-width="2.5" />
<text x="113.50" y="693.60" font-size="8.7" text-anchor="end" font-weight="normal" fill="#000" >100.0</text>
<text x="113.50" y="730.93" font-size="8.7" text-anchor="end" font-weight="normal" fill="#000" >10.0</text>
<text x="113.50" y="768.25" font-size="8.7" text-anchor="end" font-weight="normal" fill="#000" >1.0</text>
<text x="113.50" y="805.57" font-size="8.7" text-anchor="end" font-weight="normal" fill="#000" >0.1</text>
<text x="113.50" y="842.90" font-size="8.7" text-anchor="end" font-weight="normal" fill="#000" >0.0</text>
<text x="122.90" y="857.60" font-size="8.0" text-anchor="middle" font-weight="normal" fill="#000" >0.01</text>
<text x="178.83" y="857.60" font-size="8.0" text-anchor="middle" font-weight="normal" fill="#000" >0.1</text>
<text x="234.75" y="857.60" font-size="8.0" text-anchor="middle" font-weight="normal" fill="#000" >1</text>
<text x="290.68" y="857.60" font-size="8.0" text-anchor="middle" font-weight="normal" fill="#000" >10</text>
<text x="346.60" y="857.60" font-size="8.0" text-anchor="middle" font-weight="normal" fill="#000" >100</text>
<text x="320.90" y="721.30" text-anchor="start" ><tspan font-size="8.50" dy="0">10</tspan><tspan font-size="8.50" dy="0">µs</tspan></text>
<text x="321.50" y="744.00" text-anchor="start" ><tspan font-size="8.50" dy="0">100µs</tspan></text>
<text x="321.80" y="766.70" text-anchor="start" ><tspan font-size="8.50" dy="0">1ms</tspan></text>
<text x="320.90" y="780.80" text-anchor="start" ><tspan font-size="8.50" dy="0">10ms</tspan></text>
<text x="321.80" y="797.40" text-anchor="start" ><tspan font-size="8.50" dy="0">100ms</tspan></text>
<text x="321.80" y="810.00" text-anchor="start" ><tspan font-size="8.50" dy="0">10s</tspan></text>
<text x="231.50" y="793.20" font-size="8.8" text-anchor="start" font-weight="normal" fill="#000" >DC</text>
<text x="140.80" y="736.50" text-anchor="start" ><tspan font-size="8.80" dy="0">R</tspan><tspan font-size="5.46" dy="1.5">DS(ON)</tspan></text>
<text x="140.80" y="747.20" font-size="8.8" text-anchor="start" font-weight="normal" fill="#000" >limited</text>
<text x="140.10" y="816.70" font-size="8.5" text-anchor="start" font-weight="normal" fill="#000" >T</text>
<text x="145.20" y="818.90" font-size="6.12" text-anchor="start" font-weight="normal" fill="#000" >J(Max)</text>
<text x="164.40" y="816.70" font-size="8.5" text-anchor="start" font-weight="normal" fill="#000" >=150</text>
<text x="185.80" y="815.40" font-size="6.38" text-anchor="start" font-weight="normal" fill="#000" >°</text>
<text x="194.00" y="816.70" font-size="8.5" text-anchor="start" font-weight="normal" fill="#000" >C</text>
<text x="140.10" y="828.40" font-size="8.5" text-anchor="start" font-weight="normal" fill="#000" >T</text>
<text x="145.20" y="830.60" font-size="6.12" text-anchor="start" font-weight="normal" fill="#000" >A</text>
<text x="149.70" y="828.40" font-size="8.5" text-anchor="start" font-weight="normal" fill="#000" >=25</text>
<text x="165.80" y="827.10" font-size="6.38" text-anchor="start" font-weight="normal" fill="#000" >°</text>
<text x="174.60" y="828.40" font-size="8.5" text-anchor="start" font-weight="normal" fill="#000" >C</text>
<text x="0" y="0" text-anchor="middle" transform="translate(70.70,760.30) rotate(-90)"><tspan font-size="14.40" dy="0">-I</tspan><tspan font-size="8.64" dy="2.5">D</tspan><tspan font-size="14.40" dy="-2.5">(Amps)</tspan></text>
<text x="177.50" y="890.30" text-anchor="start" ><tspan font-size="14.40" dy="0">-V</tspan><tspan font-size="8.64" dy="2.5">DS</tspan><tspan font-size="14.40" dy="-2.5">(Volts)</tspan></text>
<line x1="500.98" y1="692.40" x2="500.98" y2="841.80" stroke="#858585" stroke-width="1.1" />
<line x1="505.64" y1="692.40" x2="505.64" y2="841.80" stroke="#858585" stroke-width="1.1" />
<line x1="508.95" y1="692.40" x2="508.95" y2="841.80" stroke="#858585" stroke-width="1.1" />
<line x1="511.52" y1="692.40" x2="511.52" y2="841.80" stroke="#858585" stroke-width="1.1" />
<line x1="513.62" y1="692.40" x2="513.62" y2="841.80" stroke="#858585" stroke-width="1.1" />
<line x1="515.40" y1="692.40" x2="515.40" y2="841.80" stroke="#858585" stroke-width="1.1" />
<line x1="516.93" y1="692.40" x2="516.93" y2="841.80" stroke="#858585" stroke-width="1.1" />
<line x1="518.29" y1="692.40" x2="518.29" y2="841.80" stroke="#858585" stroke-width="1.1" />
<line x1="527.48" y1="692.40" x2="527.48" y2="841.80" stroke="#858585" stroke-width="1.1" />
<line x1="532.14" y1="692.40" x2="532.14" y2="841.80" stroke="#858585" stroke-width="1.1" />
<line x1="535.45" y1="692.40" x2="535.45" y2="841.80" stroke="#858585" stroke-width="1.1" />
<line x1="538.02" y1="692.40" x2="538.02" y2="841.80" stroke="#858585" stroke-width="1.1" />
<line x1="540.12" y1="692.40" x2="540.12" y2="841.80" stroke="#858585" stroke-width="1.1" />
<line x1="541.90" y1="692.40" x2="541.90" y2="841.80" stroke="#858585" stroke-width="1.1" />
<line x1="543.43" y1="692.40" x2="543.43" y2="841.80" stroke="#858585" stroke-width="1.1" />
<line x1="544.79" y1="692.40" x2="544.79" y2="841.80" stroke="#858585" stroke-width="1.1" />
<line x1="553.98" y1="692.40" x2="553.98" y2="841.80" stroke="#858585" stroke-width="1.1" />
<line x1="558.64" y1="692.40" x2="558.64" y2="841.80" stroke="#858585" stroke-width="1.1" />
<line x1="561.95" y1="692.40" x2="561.95" y2="841.80" stroke="#858585" stroke-width="1.1" />
<line x1="564.52" y1="692.40" x2="564.52" y2="841.80" stroke="#858585" stroke-width="1.1" />
<line x1="566.62" y1="692.40" x2="566.62" y2="841.80" stroke="#858585" stroke-width="1.1" />
<line x1="568.40" y1="692.40" x2="568.40" y2="841.80" stroke="#858585" stroke-width="1.1" />
<line x1="569.93" y1="692.40" x2="569.93" y2="841.80" stroke="#858585" stroke-width="1.1" />
<line x1="571.29" y1="692.40" x2="571.29" y2="841.80" stroke="#858585" stroke-width="1.1" />
<line x1="580.48" y1="692.40" x2="580.48" y2="841.80" stroke="#858585" stroke-width="1.1" />
<line x1="585.14" y1="692.40" x2="585.14" y2="841.80" stroke="#858585" stroke-width="1.1" />
<line x1="588.45" y1="692.40" x2="588.45" y2="841.80" stroke="#858585" stroke-width="1.1" />
<line x1="591.02" y1="692.40" x2="591.02" y2="841.80" stroke="#858585" stroke-width="1.1" />
<line x1="593.12" y1="692.40" x2="593.12" y2="841.80" stroke="#858585" stroke-width="1.1" />
<line x1="594.90" y1="692.40" x2="594.90" y2="841.80" stroke="#858585" stroke-width="1.1" />
<line x1="596.43" y1="692.40" x2="596.43" y2="841.80" stroke="#858585" stroke-width="1.1" />
<line x1="597.79" y1="692.40" x2="597.79" y2="841.80" stroke="#858585" stroke-width="1.1" />
<line x1="606.98" y1="692.40" x2="606.98" y2="841.80" stroke="#858585" stroke-width="1.1" />
<line x1="611.64" y1="692.40" x2="611.64" y2="841.80" stroke="#858585" stroke-width="1.1" />
<line x1="614.95" y1="692.40" x2="614.95" y2="841.80" stroke="#858585" stroke-width="1.1" />
<line x1="617.52" y1="692.40" x2="617.52" y2="841.80" stroke="#858585" stroke-width="1.1" />
<line x1="619.62" y1="692.40" x2="619.62" y2="841.80" stroke="#858585" stroke-width="1.1" />
<line x1="621.40" y1="692.40" x2="621.40" y2="841.80" stroke="#858585" stroke-width="1.1" />
<line x1="622.93" y1="692.40" x2="622.93" y2="841.80" stroke="#858585" stroke-width="1.1" />
<line x1="624.29" y1="692.40" x2="624.29" y2="841.80" stroke="#858585" stroke-width="1.1" />
<line x1="633.48" y1="692.40" x2="633.48" y2="841.80" stroke="#858585" stroke-width="1.1" />
<line x1="638.14" y1="692.40" x2="638.14" y2="841.80" stroke="#858585" stroke-width="1.1" />
<line x1="641.45" y1="692.40" x2="641.45" y2="841.80" stroke="#858585" stroke-width="1.1" />
<line x1="644.02" y1="692.40" x2="644.02" y2="841.80" stroke="#858585" stroke-width="1.1" />
<line x1="646.12" y1="692.40" x2="646.12" y2="841.80" stroke="#858585" stroke-width="1.1" />
<line x1="647.90" y1="692.40" x2="647.90" y2="841.80" stroke="#858585" stroke-width="1.1" />
<line x1="649.43" y1="692.40" x2="649.43" y2="841.80" stroke="#858585" stroke-width="1.1" />
<line x1="650.79" y1="692.40" x2="650.79" y2="841.80" stroke="#858585" stroke-width="1.1" />
<line x1="659.98" y1="692.40" x2="659.98" y2="841.80" stroke="#858585" stroke-width="1.1" />
<line x1="664.64" y1="692.40" x2="664.64" y2="841.80" stroke="#858585" stroke-width="1.1" />
<line x1="667.95" y1="692.40" x2="667.95" y2="841.80" stroke="#858585" stroke-width="1.1" />
<line x1="670.52" y1="692.40" x2="670.52" y2="841.80" stroke="#858585" stroke-width="1.1" />
<line x1="672.62" y1="692.40" x2="672.62" y2="841.80" stroke="#858585" stroke-width="1.1" />
<line x1="674.40" y1="692.40" x2="674.40" y2="841.80" stroke="#858585" stroke-width="1.1" />
<line x1="675.93" y1="692.40" x2="675.93" y2="841.80" stroke="#858585" stroke-width="1.1" />
<line x1="677.29" y1="692.40" x2="677.29" y2="841.80" stroke="#858585" stroke-width="1.1" />
<line x1="686.48" y1="692.40" x2="686.48" y2="841.80" stroke="#858585" stroke-width="1.1" />
<line x1="691.14" y1="692.40" x2="691.14" y2="841.80" stroke="#858585" stroke-width="1.1" />
<line x1="694.45" y1="692.40" x2="694.45" y2="841.80" stroke="#858585" stroke-width="1.1" />
<line x1="697.02" y1="692.40" x2="697.02" y2="841.80" stroke="#858585" stroke-width="1.1" />
<line x1="699.12" y1="692.40" x2="699.12" y2="841.80" stroke="#858585" stroke-width="1.1" />
<line x1="700.90" y1="692.40" x2="700.90" y2="841.80" stroke="#858585" stroke-width="1.1" />
<line x1="702.43" y1="692.40" x2="702.43" y2="841.80" stroke="#858585" stroke-width="1.1" />
<line x1="703.79" y1="692.40" x2="703.79" y2="841.80" stroke="#858585" stroke-width="1.1" />
<line x1="493.00" y1="826.81" x2="705.00" y2="826.81" stroke="#c4c4c4" stroke-width="1.1" />
<line x1="493.00" y1="818.04" x2="705.00" y2="818.04" stroke="#c4c4c4" stroke-width="1.1" />
<line x1="493.00" y1="811.82" x2="705.00" y2="811.82" stroke="#c4c4c4" stroke-width="1.1" />
<line x1="493.00" y1="806.99" x2="705.00" y2="806.99" stroke="#c4c4c4" stroke-width="1.1" />
<line x1="493.00" y1="803.05" x2="705.00" y2="803.05" stroke="#c4c4c4" stroke-width="1.1" />
<line x1="493.00" y1="799.71" x2="705.00" y2="799.71" stroke="#c4c4c4" stroke-width="1.1" />
<line x1="493.00" y1="796.83" x2="705.00" y2="796.83" stroke="#c4c4c4" stroke-width="1.1" />
<line x1="493.00" y1="794.28" x2="705.00" y2="794.28" stroke="#c4c4c4" stroke-width="1.1" />
<line x1="493.00" y1="777.01" x2="705.00" y2="777.01" stroke="#c4c4c4" stroke-width="1.1" />
<line x1="493.00" y1="768.24" x2="705.00" y2="768.24" stroke="#c4c4c4" stroke-width="1.1" />
<line x1="493.00" y1="762.02" x2="705.00" y2="762.02" stroke="#c4c4c4" stroke-width="1.1" />
<line x1="493.00" y1="757.19" x2="705.00" y2="757.19" stroke="#c4c4c4" stroke-width="1.1" />
<line x1="493.00" y1="753.25" x2="705.00" y2="753.25" stroke="#c4c4c4" stroke-width="1.1" />
<line x1="493.00" y1="749.91" x2="705.00" y2="749.91" stroke="#c4c4c4" stroke-width="1.1" />
<line x1="493.00" y1="747.03" x2="705.00" y2="747.03" stroke="#c4c4c4" stroke-width="1.1" />
<line x1="493.00" y1="744.48" x2="705.00" y2="744.48" stroke="#c4c4c4" stroke-width="1.1" />
<line x1="493.00" y1="727.21" x2="705.00" y2="727.21" stroke="#c4c4c4" stroke-width="1.1" />
<line x1="493.00" y1="718.44" x2="705.00" y2="718.44" stroke="#c4c4c4" stroke-width="1.1" />
<line x1="493.00" y1="712.22" x2="705.00" y2="712.22" stroke="#c4c4c4" stroke-width="1.1" />
<line x1="493.00" y1="707.39" x2="705.00" y2="707.39" stroke="#c4c4c4" stroke-width="1.1" />
<line x1="493.00" y1="703.45" x2="705.00" y2="703.45" stroke="#c4c4c4" stroke-width="1.1" />
<line x1="493.00" y1="700.11" x2="705.00" y2="700.11" stroke="#c4c4c4" stroke-width="1.1" />
<line x1="493.00" y1="697.23" x2="705.00" y2="697.23" stroke="#c4c4c4" stroke-width="1.1" />
<line x1="493.00" y1="694.68" x2="705.00" y2="694.68" stroke="#c4c4c4" stroke-width="1.1" />
<line x1="519.50" y1="692.40" x2="519.50" y2="841.80" stroke="#737373" stroke-width="1.15" />
<line x1="546.00" y1="692.40" x2="546.00" y2="841.80" stroke="#737373" stroke-width="1.15" />
<line x1="572.50" y1="692.40" x2="572.50" y2="841.80" stroke="#737373" stroke-width="1.15" />
<line x1="599.00" y1="692.40" x2="599.00" y2="841.80" stroke="#737373" stroke-width="1.15" />
<line x1="625.50" y1="692.40" x2="625.50" y2="841.80" stroke="#737373" stroke-width="1.15" />
<line x1="652.00" y1="692.40" x2="652.00" y2="841.80" stroke="#737373" stroke-width="1.15" />
<line x1="678.50" y1="692.40" x2="678.50" y2="841.80" stroke="#737373" stroke-width="1.15" />
<line x1="705.00" y1="692.40" x2="705.00" y2="841.80" stroke="#737373" stroke-width="1.15" />
<line x1="493.00" y1="792.00" x2="705.00" y2="792.00" stroke="#737373" stroke-width="1.15" />
<line x1="493.00" y1="742.20" x2="705.00" y2="742.20" stroke="#737373" stroke-width="1.15" />
<line x1="493.00" y1="692.40" x2="705.00" y2="692.40" stroke="#737373" stroke-width="1.15" />
<rect x="613.20" y="701.80" width="82.90" height="29.30" fill="#fff"/>
<path d="M496.10,707.50 C497.37,709.52 501.05,715.55 503.70,719.60 C506.35,723.65 508.72,727.87 512.00,731.80 C515.28,735.73 519.72,739.40 523.40,743.20 C527.08,747.00 530.05,750.30 534.10,754.60 C538.15,758.90 543.65,765.33 547.70,769.00 C551.75,772.67 555.52,774.77 558.40,776.60 C561.28,778.43 562.73,778.73 565.00,780.00 C567.27,781.27 570.08,782.87 572.00,784.20 C573.92,785.53 575.17,786.67 576.50,788.00 C577.83,789.33 578.05,789.98 580.00,792.20 C581.95,794.42 585.45,798.28 588.20,801.30 C590.95,804.32 593.75,807.57 596.50,810.30 C599.25,813.03 601.97,815.50 604.70,817.70 C607.43,819.90 610.17,821.98 612.90,823.50 C615.63,825.02 618.35,825.90 621.10,826.80 C623.85,827.70 626.65,828.35 629.40,828.90 C632.15,829.45 634.87,829.72 637.60,830.10 C640.33,830.48 643.07,830.80 645.80,831.20 C648.53,831.60 651.25,832.00 654.00,832.50 C656.75,833.00 659.55,833.58 662.30,834.20 C665.05,834.82 667.77,835.38 670.50,836.20 C673.23,837.02 675.95,838.28 678.70,839.10 C681.45,839.92 684.80,840.63 687.00,841.10 C689.20,841.57 691.08,841.77 691.90,841.90" fill="none" stroke="#000" stroke-width="2.5" stroke-linejoin="round" stroke-linecap="round" />
<line x1="493.00" y1="691.90" x2="493.00" y2="843.05" stroke="#000" stroke-width="2.5" />
<line x1="491.75" y1="841.80" x2="705.80" y2="841.80" stroke="#000" stroke-width="2.5" />
<text x="482.80" y="699.80" font-size="8.5" text-anchor="end" font-weight="normal" fill="#000" >1000</text>
<text x="482.80" y="746.50" font-size="8.5" text-anchor="end" font-weight="normal" fill="#000" >100</text>
<text x="482.80" y="793.60" font-size="8.5" text-anchor="end" font-weight="normal" fill="#000" >10</text>
<text x="482.80" y="841.10" font-size="8.5" text-anchor="end" font-weight="normal" fill="#000" >1</text>
<text x="505.80" y="858.20" font-size="8.6" text-anchor="middle" font-weight="normal" fill="#000" >0.00001</text>
<text x="556.00" y="858.20" font-size="8.6" text-anchor="middle" font-weight="normal" fill="#000" >0.001</text>
<text x="605.50" y="858.20" font-size="8.6" text-anchor="middle" font-weight="normal" fill="#000" >0.1</text>
<text x="655.70" y="858.20" font-size="8.6" text-anchor="middle" font-weight="normal" fill="#000" >10</text>
<text x="704.30" y="858.20" font-size="8.6" text-anchor="middle" font-weight="normal" fill="#000" >1000</text>
<text x="616.00" y="713.70" font-size="8.8" text-anchor="start" font-weight="normal" fill="#000" >T</text>
<text x="621.60" y="715.90" font-size="6.34" text-anchor="start" font-weight="normal" fill="#000" >J(Max)</text>
<text x="640.60" y="713.70" font-size="8.8" text-anchor="start" font-weight="normal" fill="#000" >=150</text>
<text x="663.00" y="712.40" font-size="6.6" text-anchor="start" font-weight="normal" fill="#000" >°</text>
<text x="671.70" y="713.70" font-size="8.8" text-anchor="start" font-weight="normal" fill="#000" >C</text>
<text x="616.00" y="725.50" font-size="8.8" text-anchor="start" font-weight="normal" fill="#000" >T</text>
<text x="620.90" y="727.70" font-size="6.34" text-anchor="start" font-weight="normal" fill="#000" >A</text>
<text x="625.60" y="725.50" font-size="8.8" text-anchor="start" font-weight="normal" fill="#000" >=25</text>
<text x="642.80" y="724.20" font-size="6.6" text-anchor="start" font-weight="normal" fill="#000" >°</text>
<text x="650.80" y="725.50" font-size="8.8" text-anchor="start" font-weight="normal" fill="#000" >C</text>
<text x="0" y="0" text-anchor="middle" transform="translate(434.20,760.00) rotate(-90)"><tspan font-size="14.40" dy="0">P</tspan><tspan font-size="8.64" dy="2.5">ower</tspan><tspan font-size="14.40" dy="-2.5">(W)</tspan></text>
<text x="534.80" y="890.30" font-size="14.4" text-anchor="start" font-weight="normal" fill="#000" >Pulse Width (s)</text>
<line x1="183.64" y1="973.80" x2="183.64" y2="1141.90" stroke="#858585" stroke-width="1.1" />
<line x1="194.77" y1="973.80" x2="194.77" y2="1141.90" stroke="#858585" stroke-width="1.1" />
<line x1="202.67" y1="973.80" x2="202.67" y2="1141.90" stroke="#858585" stroke-width="1.1" />
<line x1="208.80" y1="973.80" x2="208.80" y2="1141.90" stroke="#858585" stroke-width="1.1" />
<line x1="213.81" y1="973.80" x2="213.81" y2="1141.90" stroke="#858585" stroke-width="1.1" />
<line x1="218.04" y1="973.80" x2="218.04" y2="1141.90" stroke="#858585" stroke-width="1.1" />
<line x1="221.71" y1="973.80" x2="221.71" y2="1141.90" stroke="#858585" stroke-width="1.1" />
<line x1="224.94" y1="973.80" x2="224.94" y2="1141.90" stroke="#858585" stroke-width="1.1" />
<line x1="246.87" y1="973.80" x2="246.87" y2="1141.90" stroke="#858585" stroke-width="1.1" />
<line x1="258.01" y1="973.80" x2="258.01" y2="1141.90" stroke="#858585" stroke-width="1.1" />
<line x1="265.91" y1="973.80" x2="265.91" y2="1141.90" stroke="#858585" stroke-width="1.1" />
<line x1="272.04" y1="973.80" x2="272.04" y2="1141.90" stroke="#858585" stroke-width="1.1" />
<line x1="277.05" y1="973.80" x2="277.05" y2="1141.90" stroke="#858585" stroke-width="1.1" />
<line x1="281.28" y1="973.80" x2="281.28" y2="1141.90" stroke="#858585" stroke-width="1.1" />
<line x1="284.95" y1="973.80" x2="284.95" y2="1141.90" stroke="#858585" stroke-width="1.1" />
<line x1="288.18" y1="973.80" x2="288.18" y2="1141.90" stroke="#858585" stroke-width="1.1" />
<line x1="310.11" y1="973.80" x2="310.11" y2="1141.90" stroke="#858585" stroke-width="1.1" />
<line x1="321.25" y1="973.80" x2="321.25" y2="1141.90" stroke="#858585" stroke-width="1.1" />
<line x1="329.15" y1="973.80" x2="329.15" y2="1141.90" stroke="#858585" stroke-width="1.1" />
<line x1="335.28" y1="973.80" x2="335.28" y2="1141.90" stroke="#858585" stroke-width="1.1" />
<line x1="340.28" y1="973.80" x2="340.28" y2="1141.90" stroke="#858585" stroke-width="1.1" />
<line x1="344.52" y1="973.80" x2="344.52" y2="1141.90" stroke="#858585" stroke-width="1.1" />
<line x1="348.18" y1="973.80" x2="348.18" y2="1141.90" stroke="#858585" stroke-width="1.1" />
<line x1="351.42" y1="973.80" x2="351.42" y2="1141.90" stroke="#858585" stroke-width="1.1" />
<line x1="373.35" y1="973.80" x2="373.35" y2="1141.90" stroke="#858585" stroke-width="1.1" />
<line x1="384.48" y1="973.80" x2="384.48" y2="1141.90" stroke="#858585" stroke-width="1.1" />
<line x1="392.39" y1="973.80" x2="392.39" y2="1141.90" stroke="#858585" stroke-width="1.1" />
<line x1="398.51" y1="973.80" x2="398.51" y2="1141.90" stroke="#858585" stroke-width="1.1" />
<line x1="403.52" y1="973.80" x2="403.52" y2="1141.90" stroke="#858585" stroke-width="1.1" />
<line x1="407.75" y1="973.80" x2="407.75" y2="1141.90" stroke="#858585" stroke-width="1.1" />
<line x1="411.42" y1="973.80" x2="411.42" y2="1141.90" stroke="#858585" stroke-width="1.1" />
<line x1="414.66" y1="973.80" x2="414.66" y2="1141.90" stroke="#858585" stroke-width="1.1" />
<line x1="436.59" y1="973.80" x2="436.59" y2="1141.90" stroke="#858585" stroke-width="1.1" />
<line x1="447.72" y1="973.80" x2="447.72" y2="1141.90" stroke="#858585" stroke-width="1.1" />
<line x1="455.62" y1="973.80" x2="455.62" y2="1141.90" stroke="#858585" stroke-width="1.1" />
<line x1="461.75" y1="973.80" x2="461.75" y2="1141.90" stroke="#858585" stroke-width="1.1" />
<line x1="466.76" y1="973.80" x2="466.76" y2="1141.90" stroke="#858585" stroke-width="1.1" />
<line x1="470.99" y1="973.80" x2="470.99" y2="1141.90" stroke="#858585" stroke-width="1.1" />
<line x1="474.66" y1="973.80" x2="474.66" y2="1141.90" stroke="#858585" stroke-width="1.1" />
<line x1="477.89" y1="973.80" x2="477.89" y2="1141.90" stroke="#858585" stroke-width="1.1" />
<line x1="499.82" y1="973.80" x2="499.82" y2="1141.90" stroke="#858585" stroke-width="1.1" />
<line x1="510.96" y1="973.80" x2="510.96" y2="1141.90" stroke="#858585" stroke-width="1.1" />
<line x1="518.86" y1="973.80" x2="518.86" y2="1141.90" stroke="#858585" stroke-width="1.1" />
<line x1="524.99" y1="973.80" x2="524.99" y2="1141.90" stroke="#858585" stroke-width="1.1" />
<line x1="530.00" y1="973.80" x2="530.00" y2="1141.90" stroke="#858585" stroke-width="1.1" />
<line x1="534.23" y1="973.80" x2="534.23" y2="1141.90" stroke="#858585" stroke-width="1.1" />
<line x1="537.90" y1="973.80" x2="537.90" y2="1141.90" stroke="#858585" stroke-width="1.1" />
<line x1="541.13" y1="973.80" x2="541.13" y2="1141.90" stroke="#858585" stroke-width="1.1" />
<line x1="563.06" y1="973.80" x2="563.06" y2="1141.90" stroke="#858585" stroke-width="1.1" />
<line x1="574.20" y1="973.80" x2="574.20" y2="1141.90" stroke="#858585" stroke-width="1.1" />
<line x1="582.10" y1="973.80" x2="582.10" y2="1141.90" stroke="#858585" stroke-width="1.1" />
<line x1="588.23" y1="973.80" x2="588.23" y2="1141.90" stroke="#858585" stroke-width="1.1" />
<line x1="593.23" y1="973.80" x2="593.23" y2="1141.90" stroke="#858585" stroke-width="1.1" />
<line x1="597.47" y1="973.80" x2="597.47" y2="1141.90" stroke="#858585" stroke-width="1.1" />
<line x1="601.13" y1="973.80" x2="601.13" y2="1141.90" stroke="#858585" stroke-width="1.1" />
<line x1="604.37" y1="973.80" x2="604.37" y2="1141.90" stroke="#858585" stroke-width="1.1" />
<line x1="626.30" y1="973.80" x2="626.30" y2="1141.90" stroke="#858585" stroke-width="1.1" />
<line x1="637.43" y1="973.80" x2="637.43" y2="1141.90" stroke="#858585" stroke-width="1.1" />
<line x1="645.34" y1="973.80" x2="645.34" y2="1141.90" stroke="#858585" stroke-width="1.1" />
<line x1="651.46" y1="973.80" x2="651.46" y2="1141.90" stroke="#858585" stroke-width="1.1" />
<line x1="656.47" y1="973.80" x2="656.47" y2="1141.90" stroke="#858585" stroke-width="1.1" />
<line x1="660.70" y1="973.80" x2="660.70" y2="1141.90" stroke="#858585" stroke-width="1.1" />
<line x1="664.37" y1="973.80" x2="664.37" y2="1141.90" stroke="#858585" stroke-width="1.1" />
<line x1="667.61" y1="973.80" x2="667.61" y2="1141.90" stroke="#858585" stroke-width="1.1" />
<line x1="164.60" y1="1129.25" x2="670.50" y2="1129.25" stroke="#858585" stroke-width="1.1" />
<line x1="164.60" y1="1121.85" x2="670.50" y2="1121.85" stroke="#858585" stroke-width="1.1" />
<line x1="164.60" y1="1116.60" x2="670.50" y2="1116.60" stroke="#858585" stroke-width="1.1" />
<line x1="164.60" y1="1112.53" x2="670.50" y2="1112.53" stroke="#858585" stroke-width="1.1" />
<line x1="164.60" y1="1109.20" x2="670.50" y2="1109.20" stroke="#858585" stroke-width="1.1" />
<line x1="164.60" y1="1106.38" x2="670.50" y2="1106.38" stroke="#858585" stroke-width="1.1" />
<line x1="164.60" y1="1103.95" x2="670.50" y2="1103.95" stroke="#858585" stroke-width="1.1" />
<line x1="164.60" y1="1101.80" x2="670.50" y2="1101.80" stroke="#858585" stroke-width="1.1" />
<line x1="164.60" y1="1087.22" x2="670.50" y2="1087.22" stroke="#858585" stroke-width="1.1" />
<line x1="164.60" y1="1079.82" x2="670.50" y2="1079.82" stroke="#858585" stroke-width="1.1" />
<line x1="164.60" y1="1074.57" x2="670.50" y2="1074.57" stroke="#858585" stroke-width="1.1" />
<line x1="164.60" y1="1070.50" x2="670.50" y2="1070.50" stroke="#858585" stroke-width="1.1" />
<line x1="164.60" y1="1067.17" x2="670.50" y2="1067.17" stroke="#858585" stroke-width="1.1" />
<line x1="164.60" y1="1064.36" x2="670.50" y2="1064.36" stroke="#858585" stroke-width="1.1" />
<line x1="164.60" y1="1061.92" x2="670.50" y2="1061.92" stroke="#858585" stroke-width="1.1" />
<line x1="164.60" y1="1059.77" x2="670.50" y2="1059.77" stroke="#858585" stroke-width="1.1" />
<line x1="164.60" y1="1045.20" x2="670.50" y2="1045.20" stroke="#858585" stroke-width="1.1" />
<line x1="164.60" y1="1037.80" x2="670.50" y2="1037.80" stroke="#858585" stroke-width="1.1" />
<line x1="164.60" y1="1032.55" x2="670.50" y2="1032.55" stroke="#858585" stroke-width="1.1" />
<line x1="164.60" y1="1028.48" x2="670.50" y2="1028.48" stroke="#858585" stroke-width="1.1" />
<line x1="164.60" y1="1025.15" x2="670.50" y2="1025.15" stroke="#858585" stroke-width="1.1" />
<line x1="164.60" y1="1022.33" x2="670.50" y2="1022.33" stroke="#858585" stroke-width="1.1" />
<line x1="164.60" y1="1019.90" x2="670.50" y2="1019.90" stroke="#858585" stroke-width="1.1" />
<line x1="164.60" y1="1017.75" x2="670.50" y2="1017.75" stroke="#858585" stroke-width="1.1" />
<line x1="164.60" y1="1003.17" x2="670.50" y2="1003.17" stroke="#858585" stroke-width="1.1" />
<line x1="164.60" y1="995.77" x2="670.50" y2="995.77" stroke="#858585" stroke-width="1.1" />
<line x1="164.60" y1="990.52" x2="670.50" y2="990.52" stroke="#858585" stroke-width="1.1" />
<line x1="164.60" y1="986.45" x2="670.50" y2="986.45" stroke="#858585" stroke-width="1.1" />
<line x1="164.60" y1="983.12" x2="670.50" y2="983.12" stroke="#858585" stroke-width="1.1" />
<line x1="164.60" y1="980.31" x2="670.50" y2="980.31" stroke="#858585" stroke-width="1.1" />
<line x1="164.60" y1="977.87" x2="670.50" y2="977.87" stroke="#858585" stroke-width="1.1" />
<line x1="164.60" y1="975.72" x2="670.50" y2="975.72" stroke="#858585" stroke-width="1.1" />
<line x1="227.84" y1="973.80" x2="227.84" y2="1141.90" stroke="#737373" stroke-width="1.15" />
<line x1="291.07" y1="973.80" x2="291.07" y2="1141.90" stroke="#737373" stroke-width="1.15" />
<line x1="354.31" y1="973.80" x2="354.31" y2="1141.90" stroke="#737373" stroke-width="1.15" />
<line x1="417.55" y1="973.80" x2="417.55" y2="1141.90" stroke="#737373" stroke-width="1.15" />
<line x1="480.79" y1="973.80" x2="480.79" y2="1141.90" stroke="#737373" stroke-width="1.15" />
<line x1="544.02" y1="973.80" x2="544.02" y2="1141.90" stroke="#737373" stroke-width="1.15" />
<line x1="607.26" y1="973.80" x2="607.26" y2="1141.90" stroke="#737373" stroke-width="1.15" />
<line x1="670.50" y1="973.80" x2="670.50" y2="1141.90" stroke="#737373" stroke-width="1.15" />
<line x1="164.60" y1="1099.88" x2="670.50" y2="1099.88" stroke="#737373" stroke-width="1.15" />
<line x1="164.60" y1="1057.85" x2="670.50" y2="1057.85" stroke="#737373" stroke-width="1.15" />
<line x1="164.60" y1="1015.83" x2="670.50" y2="1015.83" stroke="#737373" stroke-width="1.15" />
<line x1="164.60" y1="973.80" x2="670.50" y2="973.80" stroke="#737373" stroke-width="1.15" />
<rect x="166.50" y="975.90" width="122.30" height="49.40" fill="#fff"/>
<rect x="308.40" y="977.80" width="225.20" height="28.50" fill="#fff"/>
<rect x="254.60" y="1101.20" width="62.70" height="17.10" fill="#fff"/>
<rect x="475.20" y="1051.80" width="179.30" height="89.00" fill="#fff"/>
<path d="M164.60,1027.00 L166.60,1027.00 L168.60,1027.00 L170.60,1027.00 L172.60,1027.00 L174.60,1027.00 L176.60,1027.00 L178.60,1027.00 L180.60,1027.00 L182.60,1027.00 L184.60,1027.00 L186.60,1027.00 L188.60,1027.00 L190.60,1027.00 L192.60,1027.00 L194.60,1027.00 L196.60,1027.00 L198.60,1027.00 L200.60,1027.00 L202.60,1027.00 L204.60,1027.01 L206.60,1027.02 L208.60,1027.03 L210.60,1027.04 L212.60,1027.06 L214.60,1027.07 L216.60,1027.09 L218.60,1027.11 L220.60,1027.12 L222.60,1027.14 L224.60,1027.16 L226.60,1027.17 L228.60,1027.18 L230.60,1027.19 L232.60,1027.20 L234.60,1027.20 L236.60,1027.20 L238.60,1027.20 L240.60,1027.20 L242.60,1027.19 L244.60,1027.19 L246.60,1027.19 L248.60,1027.18 L250.60,1027.18 L252.60,1027.17 L254.60,1027.16 L256.60,1027.16 L258.60,1027.15 L260.60,1027.14 L262.60,1027.13 L264.60,1027.13 L266.60,1027.12 L268.60,1027.11 L270.60,1027.10 L272.60,1027.09 L274.60,1027.08 L276.60,1027.07 L278.60,1027.06 L280.60,1027.04 L282.60,1027.03 L284.60,1027.01 L286.60,1027.00 L288.60,1026.98 L290.60,1026.96 L292.60,1026.94 L294.60,1026.92 L296.60,1026.90 L298.60,1026.88 L300.60,1026.86 L302.60,1026.84 L304.60,1026.82 L306.60,1026.80 L308.60,1026.77 L310.60,1026.75 L312.60,1026.73 L314.60,1026.71 L316.60,1026.68 L318.60,1026.66 L320.60,1026.63 L322.60,1026.60 L324.60,1026.57 L326.60,1026.54 L328.60,1026.51 L330.60,1026.48 L332.60,1026.44 L334.60,1026.41 L336.60,1026.37 L338.60,1026.33 L340.60,1026.29 L342.60,1026.24 L344.60,1026.18 L346.60,1026.11 L348.60,1026.04 L350.60,1025.96 L352.60,1025.88 L354.60,1025.79 L356.60,1025.70 L358.60,1025.60 L360.60,1025.50 L362.60,1025.40 L364.60,1025.30 L366.60,1025.20 L368.60,1025.10 L370.60,1025.00 L372.60,1024.90 L374.60,1024.80 L376.60,1024.71 L378.60,1024.62 L380.60,1024.54 L382.60,1024.46 L384.60,1024.38 L386.60,1024.31 L388.60,1024.25 L390.60,1024.19 L392.60,1024.14 L394.60,1024.09 L396.60,1024.04 L398.60,1023.99 L400.60,1023.94 L402.60,1023.89 L404.60,1023.84 L406.60,1023.78 L408.60,1023.73 L410.60,1023.67 L412.60,1023.61 L414.60,1023.55 L416.60,1023.49 L418.60,1023.42 L420.60,1023.36 L422.60,1023.29 L424.60,1023.22 L426.60,1023.14 L428.60,1023.06 L430.60,1022.98 L432.60,1022.89 L434.60,1022.80 L436.60,1022.70 L438.60,1022.60 L440.60,1022.49 L442.60,1022.38 L444.60,1022.26 L446.60,1022.13 L448.60,1021.97 L450.60,1021.81 L452.60,1021.63 L454.60,1021.45 L456.60,1021.27 L458.60,1021.09 L460.60,1020.92 L462.60,1020.77 L464.60,1020.63 L466.60,1020.50 L468.60,1020.37 L470.60,1020.24 L472.60,1020.11 L474.60,1019.99 L476.60,1019.87 L478.60,1019.75 L480.60,1019.65 L482.60,1019.55 L484.60,1019.47 L486.60,1019.39 L488.60,1019.33 L490.60,1019.29 L492.60,1019.25 L494.60,1019.21 L496.60,1019.18 L498.60,1019.15 L500.60,1019.13 L502.60,1019.10 L504.60,1019.08 L506.60,1019.06 L508.60,1019.04 L510.60,1019.02 L512.60,1019.01 L514.60,1018.99 L516.60,1018.97 L518.60,1018.96 L520.60,1018.94 L522.60,1018.93 L524.60,1018.91 L526.60,1018.89 L528.60,1018.87 L530.60,1018.85 L532.60,1018.83 L534.60,1018.80 L536.60,1018.77 L538.60,1018.74 L540.60,1018.71 L542.60,1018.67 L544.60,1018.63 L546.60,1018.58 L548.60,1018.52 L550.60,1018.46 L552.60,1018.40 L554.60,1018.33 L556.60,1018.26 L558.60,1018.19 L560.60,1018.11 L562.60,1018.03 L564.60,1017.94 L566.60,1017.86 L568.60,1017.77 L570.60,1017.68 L572.60,1017.59 L574.60,1017.50 L576.60,1017.41 L578.60,1017.31 L580.60,1017.22 L582.60,1017.13 L584.60,1017.03 L586.60,1016.94 L588.60,1016.85 L590.60,1016.76 L592.60,1016.67 L594.60,1016.59 L596.60,1016.50 L598.60,1016.40 L600.60,1016.31 L602.60,1016.22 L604.60,1016.12 L606.60,1016.03 L608.60,1015.93 L610.60,1015.83 L612.60,1015.74 L614.60,1015.64 L616.60,1015.54 L618.60,1015.43 L620.60,1015.33 L622.60,1015.23 L624.60,1015.13 L626.60,1015.02 L627.00,1015.00" fill="none" stroke="#000" stroke-width="2.4" stroke-linejoin="round" stroke-linecap="round" />
<path d="M164.60,1036.80 L166.60,1036.79 L168.60,1036.79 L170.60,1036.78 L172.60,1036.77 L174.60,1036.76 L176.60,1036.75 L178.60,1036.74 L180.60,1036.73 L182.60,1036.72 L184.60,1036.71 L186.60,1036.69 L188.60,1036.68 L190.60,1036.67 L192.60,1036.65 L194.60,1036.64 L196.60,1036.63 L198.60,1036.61 L200.60,1036.60 L202.60,1036.58 L204.60,1036.56 L206.60,1036.55 L208.60,1036.53 L210.60,1036.51 L212.60,1036.49 L214.60,1036.47 L216.60,1036.45 L218.60,1036.43 L220.60,1036.40 L222.60,1036.38 L224.60,1036.36 L226.60,1036.33 L228.60,1036.30 L230.60,1036.27 L232.60,1036.24 L234.60,1036.21 L236.60,1036.18 L238.60,1036.14 L240.60,1036.10 L242.60,1036.05 L244.60,1036.00 L246.60,1035.95 L248.60,1035.89 L250.60,1035.83 L252.60,1035.77 L254.60,1035.71 L256.60,1035.64 L258.60,1035.58 L260.60,1035.52 L262.60,1035.45 L264.60,1035.39 L266.60,1035.33 L268.60,1035.27 L270.60,1035.21 L272.60,1035.15 L274.60,1035.09 L276.60,1035.04 L278.60,1034.98 L280.60,1034.92 L282.60,1034.86 L284.60,1034.81 L286.60,1034.75 L288.60,1034.69 L290.60,1034.63 L292.60,1034.57 L294.60,1034.52 L296.60,1034.46 L298.60,1034.41 L300.60,1034.35 L302.60,1034.30 L304.60,1034.24 L306.60,1034.19 L308.60,1034.14 L310.60,1034.09 L312.60,1034.05 L314.60,1034.00 L316.60,1033.96 L318.60,1033.92 L320.60,1033.87 L322.60,1033.83 L324.60,1033.79 L326.60,1033.74 L328.60,1033.70 L330.60,1033.65 L332.60,1033.60 L334.60,1033.55 L336.60,1033.50 L338.60,1033.44 L340.60,1033.38 L342.60,1033.32 L344.60,1033.25 L346.60,1033.18 L348.60,1033.11 L350.60,1033.04 L352.60,1032.96 L354.60,1032.88 L356.60,1032.80 L358.60,1032.71 L360.60,1032.63 L362.60,1032.54 L364.60,1032.45 L366.60,1032.35 L368.60,1032.26 L370.60,1032.16 L372.60,1032.06 L374.60,1031.96 L376.60,1031.86 L378.60,1031.76 L380.60,1031.65 L382.60,1031.54 L384.60,1031.43 L386.60,1031.32 L388.60,1031.21 L390.60,1031.09 L392.60,1030.96 L394.60,1030.82 L396.60,1030.68 L398.60,1030.54 L400.60,1030.40 L402.60,1030.25 L404.60,1030.10 L406.60,1029.96 L408.60,1029.81 L410.60,1029.66 L412.60,1029.52 L414.60,1029.37 L416.60,1029.21 L418.60,1029.06 L420.60,1028.89 L422.60,1028.72 L424.60,1028.54 L426.60,1028.35 L428.60,1028.15 L430.60,1027.95 L432.60,1027.74 L434.60,1027.52 L436.60,1027.28 L438.60,1027.04 L440.60,1026.78 L442.60,1026.50 L444.60,1026.21 L446.60,1025.86 L448.60,1025.46 L450.60,1025.01 L452.60,1024.54 L454.60,1024.07 L456.60,1023.59 L458.60,1023.14 L460.60,1022.72 L462.60,1022.35 L464.60,1022.05 L466.60,1021.80 L468.60,1021.56 L470.60,1021.32 L472.60,1021.10 L474.60,1020.88 L476.60,1020.68 L478.60,1020.49 L480.60,1020.32 L482.60,1020.17 L484.60,1020.04 L486.60,1019.93 L488.60,1019.84 L490.60,1019.78 L492.60,1019.74 L494.60,1019.69 L496.60,1019.65 L498.60,1019.62 L500.60,1019.59 L502.60,1019.56 L504.60,1019.53 L506.60,1019.50 L508.60,1019.48 L510.60,1019.46 L512.60,1019.44 L514.60,1019.42 L516.60,1019.40 L518.60,1019.39 L520.60,1019.37 L522.60,1019.35 L524.60,1019.33 L526.60,1019.31 L528.60,1019.29 L530.60,1019.27 L532.60,1019.24 L534.60,1019.21 L536.60,1019.18 L538.60,1019.15 L540.60,1019.11 L542.60,1019.07 L544.60,1019.02 L546.60,1018.97 L548.60,1018.91 L550.60,1018.85 L552.60,1018.79 L554.60,1018.73 L556.60,1018.66 L558.60,1018.58 L560.60,1018.51 L562.60,1018.43 L564.60,1018.35 L566.60,1018.27 L568.60,1018.18 L570.60,1018.09 L572.60,1018.01 L574.60,1017.92 L576.60,1017.82 L578.60,1017.73 L580.60,1017.64 L582.60,1017.54 L584.60,1017.45 L586.60,1017.36 L588.60,1017.26 L590.60,1017.17 L592.60,1017.07 L594.60,1016.98 L596.60,1016.88 L598.60,1016.77 L600.60,1016.67 L602.60,1016.56 L604.60,1016.45 L606.60,1016.34 L608.60,1016.23 L610.60,1016.11 L612.60,1015.99 L614.60,1015.87 L616.60,1015.75 L618.60,1015.63 L620.60,1015.51 L622.60,1015.38 L624.60,1015.25 L626.60,1015.13 L627.00,1015.10" fill="none" stroke="#000" stroke-width="2.4" stroke-linejoin="round" stroke-linecap="round" />
<path d="M164.60,1056.70 L166.60,1056.70 L168.60,1056.69 L170.60,1056.68 L172.60,1056.67 L174.60,1056.66 L176.60,1056.65 L178.60,1056.63 L180.60,1056.61 L182.60,1056.60 L184.60,1056.58 L186.60,1056.56 L188.60,1056.53 L190.60,1056.51 L192.60,1056.49 L194.60,1056.47 L196.60,1056.44 L198.60,1056.42 L200.60,1056.39 L202.60,1056.37 L204.60,1056.34 L206.60,1056.31 L208.60,1056.28 L210.60,1056.24 L212.60,1056.21 L214.60,1056.17 L216.60,1056.12 L218.60,1056.08 L220.60,1056.03 L222.60,1055.98 L224.60,1055.93 L226.60,1055.88 L228.60,1055.82 L230.60,1055.76 L232.60,1055.70 L234.60,1055.63 L236.60,1055.55 L238.60,1055.47 L240.60,1055.36 L242.60,1055.25 L244.60,1055.12 L246.60,1054.98 L248.60,1054.83 L250.60,1054.67 L252.60,1054.50 L254.60,1054.33 L256.60,1054.15 L258.60,1053.97 L260.60,1053.78 L262.60,1053.59 L264.60,1053.40 L266.60,1053.21 L268.60,1053.02 L270.60,1052.83 L272.60,1052.64 L274.60,1052.44 L276.60,1052.24 L278.60,1052.03 L280.60,1051.81 L282.60,1051.59 L284.60,1051.36 L286.60,1051.13 L288.60,1050.90 L290.60,1050.67 L292.60,1050.43 L294.60,1050.19 L296.60,1049.95 L298.60,1049.71 L300.60,1049.47 L302.60,1049.23 L304.60,1049.00 L306.60,1048.77 L308.60,1048.53 L310.60,1048.30 L312.60,1048.06 L314.60,1047.82 L316.60,1047.58 L318.60,1047.33 L320.60,1047.09 L322.60,1046.85 L324.60,1046.61 L326.60,1046.36 L328.60,1046.12 L330.60,1045.89 L332.60,1045.65 L334.60,1045.42 L336.60,1045.18 L338.60,1044.96 L340.60,1044.73 L342.60,1044.51 L344.60,1044.30 L346.60,1044.08 L348.60,1043.87 L350.60,1043.66 L352.60,1043.45 L354.60,1043.24 L356.60,1043.03 L358.60,1042.83 L360.60,1042.62 L362.60,1042.42 L364.60,1042.22 L366.60,1042.01 L368.60,1041.81 L370.60,1041.61 L372.60,1041.40 L374.60,1041.20 L376.60,1040.99 L378.60,1040.79 L380.60,1040.58 L382.60,1040.37 L384.60,1040.16 L386.60,1039.94 L388.60,1039.73 L390.60,1039.52 L392.60,1039.32 L394.60,1039.12 L396.60,1038.91 L398.60,1038.70 L400.60,1038.48 L402.60,1038.24 L404.60,1037.99 L406.60,1037.72 L408.60,1037.42 L410.60,1037.10 L412.60,1036.76 L414.60,1036.40 L416.60,1036.02 L418.60,1035.63 L420.60,1035.23 L422.60,1034.81 L424.60,1034.39 L426.60,1033.95 L428.60,1033.48 L430.60,1033.00 L432.60,1032.49 L434.60,1031.97 L436.60,1031.43 L438.60,1030.89 L440.60,1030.34 L442.60,1029.79 L444.60,1029.23 L446.60,1028.64 L448.60,1028.00 L450.60,1027.33 L452.60,1026.65 L454.60,1025.98 L456.60,1025.33 L458.60,1024.71 L460.60,1024.15 L462.60,1023.67 L464.60,1023.27 L466.60,1022.94 L468.60,1022.62 L470.60,1022.32 L472.60,1022.02 L474.60,1021.75 L476.60,1021.49 L478.60,1021.25 L480.60,1021.04 L482.60,1020.85 L484.60,1020.68 L486.60,1020.55 L488.60,1020.45 L490.60,1020.38 L492.60,1020.33 L494.60,1020.28 L496.60,1020.23 L498.60,1020.19 L500.60,1020.15 L502.60,1020.12 L504.60,1020.08 L506.60,1020.06 L508.60,1020.03 L510.60,1020.01 L512.60,1019.98 L514.60,1019.96 L516.60,1019.94 L518.60,1019.92 L520.60,1019.90 L522.60,1019.88 L524.60,1019.86 L526.60,1019.84 L528.60,1019.81 L530.60,1019.79 L532.60,1019.76 L534.60,1019.72 L536.60,1019.69 L538.60,1019.65 L540.60,1019.61 L542.60,1019.56 L544.60,1019.51 L546.60,1019.46 L548.60,1019.40 L550.60,1019.34 L552.60,1019.27 L554.60,1019.20 L556.60,1019.13 L558.60,1019.06 L560.60,1018.98 L562.60,1018.90 L564.60,1018.81 L566.60,1018.73 L568.60,1018.64 L570.60,1018.55 L572.60,1018.46 L574.60,1018.37 L576.60,1018.27 L578.60,1018.17 L580.60,1018.08 L582.60,1017.98 L584.60,1017.88 L586.60,1017.78 L588.60,1017.67 L590.60,1017.57 L592.60,1017.47 L594.60,1017.36 L596.60,1017.25 L598.60,1017.14 L600.60,1017.02 L602.60,1016.90 L604.60,1016.78 L606.60,1016.65 L608.60,1016.52 L610.60,1016.38 L612.60,1016.25 L614.60,1016.11 L616.60,1015.97 L618.60,1015.82 L620.60,1015.68 L622.60,1015.53 L624.60,1015.38 L626.60,1015.23 L627.00,1015.20" fill="none" stroke="#000" stroke-width="2.4" stroke-linejoin="round" stroke-linecap="round" />
<path d="M164.60,1068.90 L166.60,1068.87 L168.60,1068.84 L170.60,1068.81 L172.60,1068.77 L174.60,1068.73 L176.60,1068.68 L178.60,1068.64 L180.60,1068.59 L182.60,1068.54 L184.60,1068.48 L186.60,1068.42 L188.60,1068.37 L190.60,1068.31 L192.60,1068.24 L194.60,1068.18 L196.60,1068.11 L198.60,1068.05 L200.60,1067.98 L202.60,1067.91 L204.60,1067.84 L206.60,1067.76 L208.60,1067.68 L210.60,1067.59 L212.60,1067.51 L214.60,1067.41 L216.60,1067.32 L218.60,1067.22 L220.60,1067.12 L222.60,1067.01 L224.60,1066.89 L226.60,1066.78 L228.60,1066.65 L230.60,1066.53 L232.60,1066.39 L234.60,1066.26 L236.60,1066.11 L238.60,1065.95 L240.60,1065.77 L242.60,1065.58 L244.60,1065.38 L246.60,1065.16 L248.60,1064.94 L250.60,1064.70 L252.60,1064.45 L254.60,1064.20 L256.60,1063.94 L258.60,1063.68 L260.60,1063.41 L262.60,1063.14 L264.60,1062.86 L266.60,1062.59 L268.60,1062.31 L270.60,1062.04 L272.60,1061.77 L274.60,1061.48 L276.60,1061.19 L278.60,1060.90 L280.60,1060.60 L282.60,1060.29 L284.60,1059.97 L286.60,1059.65 L288.60,1059.33 L290.60,1059.00 L292.60,1058.68 L294.60,1058.35 L296.60,1058.01 L298.60,1057.68 L300.60,1057.35 L302.60,1057.01 L304.60,1056.68 L306.60,1056.35 L308.60,1056.02 L310.60,1055.68 L312.60,1055.34 L314.60,1054.99 L316.60,1054.64 L318.60,1054.29 L320.60,1053.94 L322.60,1053.59 L324.60,1053.24 L326.60,1052.89 L328.60,1052.54 L330.60,1052.19 L332.60,1051.85 L334.60,1051.50 L336.60,1051.16 L338.60,1050.83 L340.60,1050.50 L342.60,1050.18 L344.60,1049.86 L346.60,1049.54 L348.60,1049.23 L350.60,1048.91 L352.60,1048.60 L354.60,1048.30 L356.60,1047.99 L358.60,1047.69 L360.60,1047.38 L362.60,1047.08 L364.60,1046.78 L366.60,1046.47 L368.60,1046.17 L370.60,1045.87 L372.60,1045.56 L374.60,1045.25 L376.60,1044.95 L378.60,1044.64 L380.60,1044.32 L382.60,1044.01 L384.60,1043.69 L386.60,1043.36 L388.60,1043.04 L390.60,1042.72 L392.60,1042.41 L394.60,1042.09 L396.60,1041.77 L398.60,1041.44 L400.60,1041.09 L402.60,1040.74 L404.60,1040.37 L406.60,1039.98 L408.60,1039.57 L410.60,1039.14 L412.60,1038.69 L414.60,1038.22 L416.60,1037.74 L418.60,1037.25 L420.60,1036.74 L422.60,1036.23 L424.60,1035.70 L426.60,1035.17 L428.60,1034.62 L430.60,1034.04 L432.60,1033.45 L434.60,1032.85 L436.60,1032.24 L438.60,1031.63 L440.60,1031.02 L442.60,1030.42 L444.60,1029.82 L446.60,1029.19 L448.60,1028.52 L450.60,1027.83 L452.60,1027.14 L454.60,1026.46 L456.60,1025.81 L458.60,1025.19 L460.60,1024.64 L462.60,1024.16 L464.60,1023.77 L466.60,1023.45 L468.60,1023.14 L470.60,1022.84 L472.60,1022.56 L474.60,1022.29 L476.60,1022.05 L478.60,1021.82 L480.60,1021.61 L482.60,1021.43 L484.60,1021.28 L486.60,1021.15 L488.60,1021.05 L490.60,1020.98 L492.60,1020.93 L494.60,1020.88 L496.60,1020.83 L498.60,1020.79 L500.60,1020.75 L502.60,1020.72 L504.60,1020.69 L506.60,1020.66 L508.60,1020.63 L510.60,1020.61 L512.60,1020.59 L514.60,1020.57 L516.60,1020.54 L518.60,1020.52 L520.60,1020.50 L522.60,1020.48 L524.60,1020.46 L526.60,1020.44 L528.60,1020.41 L530.60,1020.39 L532.60,1020.36 L534.60,1020.33 L536.60,1020.29 L538.60,1020.25 L540.60,1020.21 L542.60,1020.16 L544.60,1020.11 L546.60,1020.05 L548.60,1020.00 L550.60,1019.93 L552.60,1019.87 L554.60,1019.80 L556.60,1019.72 L558.60,1019.65 L560.60,1019.57 L562.60,1019.48 L564.60,1019.40 L566.60,1019.31 L568.60,1019.22 L570.60,1019.12 L572.60,1019.03 L574.60,1018.93 L576.60,1018.83 L578.60,1018.73 L580.60,1018.62 L582.60,1018.52 L584.60,1018.41 L586.60,1018.30 L588.60,1018.19 L590.60,1018.08 L592.60,1017.97 L594.60,1017.85 L596.60,1017.72 L598.60,1017.60 L600.60,1017.46 L602.60,1017.32 L604.60,1017.18 L606.60,1017.03 L608.60,1016.87 L610.60,1016.71 L612.60,1016.55 L614.60,1016.39 L616.60,1016.22 L618.60,1016.05 L620.60,1015.87 L622.60,1015.70 L624.60,1015.52 L626.60,1015.34 L627.00,1015.30" fill="none" stroke="#000" stroke-width="2.4" stroke-linejoin="round" stroke-linecap="round" />
<path d="M164.60,1084.90 L166.60,1084.88 L168.60,1084.85 L170.60,1084.80 L172.60,1084.74 L174.60,1084.67 L176.60,1084.59 L178.60,1084.50 L180.60,1084.40 L182.60,1084.29 L184.60,1084.17 L186.60,1084.05 L188.60,1083.92 L190.60,1083.78 L192.60,1083.64 L194.60,1083.50 L196.60,1083.35 L198.60,1083.20 L200.60,1083.05 L202.60,1082.88 L204.60,1082.69 L206.60,1082.48 L208.60,1082.25 L210.60,1082.00 L212.60,1081.73 L214.60,1081.45 L216.60,1081.15 L218.60,1080.85 L220.60,1080.54 L222.60,1080.22 L224.60,1079.89 L226.60,1079.56 L228.60,1079.23 L230.60,1078.89 L232.60,1078.56 L234.60,1078.23 L236.60,1077.90 L238.60,1077.57 L240.60,1077.22 L242.60,1076.86 L244.60,1076.50 L246.60,1076.12 L248.60,1075.74 L250.60,1075.36 L252.60,1074.97 L254.60,1074.57 L256.60,1074.17 L258.60,1073.77 L260.60,1073.37 L262.60,1072.97 L264.60,1072.56 L266.60,1072.16 L268.60,1071.76 L270.60,1071.36 L272.60,1070.96 L274.60,1070.57 L276.60,1070.17 L278.60,1069.77 L280.60,1069.37 L282.60,1068.97 L284.60,1068.57 L286.60,1068.17 L288.60,1067.76 L290.60,1067.35 L292.60,1066.94 L294.60,1066.52 L296.60,1066.10 L298.60,1065.68 L300.60,1065.25 L302.60,1064.82 L304.60,1064.38 L306.60,1063.93 L308.60,1063.48 L310.60,1063.01 L312.60,1062.53 L314.60,1062.04 L316.60,1061.54 L318.60,1061.04 L320.60,1060.53 L322.60,1060.02 L324.60,1059.52 L326.60,1059.01 L328.60,1058.51 L330.60,1058.01 L332.60,1057.52 L334.60,1057.04 L336.60,1056.57 L338.60,1056.11 L340.60,1055.67 L342.60,1055.24 L344.60,1054.82 L346.60,1054.41 L348.60,1054.01 L350.60,1053.62 L352.60,1053.24 L354.60,1052.86 L356.60,1052.48 L358.60,1052.11 L360.60,1051.74 L362.60,1051.37 L364.60,1051.00 L366.60,1050.63 L368.60,1050.25 L370.60,1049.88 L372.60,1049.49 L374.60,1049.11 L376.60,1048.71 L378.60,1048.31 L380.60,1047.89 L382.60,1047.47 L384.60,1047.04 L386.60,1046.59 L388.60,1046.13 L390.60,1045.65 L392.60,1045.15 L394.60,1044.64 L396.60,1044.11 L398.60,1043.58 L400.60,1043.05 L402.60,1042.51 L404.60,1041.97 L406.60,1041.44 L408.60,1040.91 L410.60,1040.38 L412.60,1039.85 L414.60,1039.31 L416.60,1038.77 L418.60,1038.22 L420.60,1037.67 L422.60,1037.10 L424.60,1036.52 L426.60,1035.92 L428.60,1035.30 L430.60,1034.66 L432.60,1034.01 L434.60,1033.35 L436.60,1032.69 L438.60,1032.03 L440.60,1031.38 L442.60,1030.74 L444.60,1030.11 L446.60,1029.46 L448.60,1028.77 L450.60,1028.06 L452.60,1027.36 L454.60,1026.68 L456.60,1026.02 L458.60,1025.42 L460.60,1024.88 L462.60,1024.42 L464.60,1024.06 L466.60,1023.78 L468.60,1023.51 L470.60,1023.25 L472.60,1023.02 L474.60,1022.79 L476.60,1022.59 L478.60,1022.40 L480.60,1022.23 L482.60,1022.08 L484.60,1021.95 L486.60,1021.84 L488.60,1021.75 L490.60,1021.68 L492.60,1021.62 L494.60,1021.57 L496.60,1021.52 L498.60,1021.47 L500.60,1021.43 L502.60,1021.39 L504.60,1021.36 L506.60,1021.33 L508.60,1021.30 L510.60,1021.27 L512.60,1021.24 L514.60,1021.22 L516.60,1021.19 L518.60,1021.17 L520.60,1021.15 L522.60,1021.12 L524.60,1021.10 L526.60,1021.07 L528.60,1021.04 L530.60,1021.01 L532.60,1020.98 L534.60,1020.94 L536.60,1020.90 L538.60,1020.86 L540.60,1020.81 L542.60,1020.76 L544.60,1020.70 L546.60,1020.64 L548.60,1020.58 L550.60,1020.52 L552.60,1020.45 L554.60,1020.37 L556.60,1020.30 L558.60,1020.22 L560.60,1020.14 L562.60,1020.05 L564.60,1019.96 L566.60,1019.87 L568.60,1019.78 L570.60,1019.68 L572.60,1019.58 L574.60,1019.48 L576.60,1019.38 L578.60,1019.27 L580.60,1019.16 L582.60,1019.05 L584.60,1018.94 L586.60,1018.82 L588.60,1018.70 L590.60,1018.58 L592.60,1018.46 L594.60,1018.33 L596.60,1018.20 L598.60,1018.05 L600.60,1017.90 L602.60,1017.74 L604.60,1017.58 L606.60,1017.41 L608.60,1017.23 L610.60,1017.05 L612.60,1016.86 L614.60,1016.67 L616.60,1016.47 L618.60,1016.27 L620.60,1016.07 L622.60,1015.86 L624.60,1015.65 L626.60,1015.44 L627.00,1015.40" fill="none" stroke="#000" stroke-width="2.4" stroke-linejoin="round" stroke-linecap="round" />
<path d="M164.60,1097.60 L166.60,1097.41 L168.60,1097.22 L170.60,1097.02 L172.60,1096.81 L174.60,1096.59 L176.60,1096.36 L178.60,1096.12 L180.60,1095.88 L182.60,1095.63 L184.60,1095.37 L186.60,1095.11 L188.60,1094.84 L190.60,1094.57 L192.60,1094.28 L194.60,1094.00 L196.60,1093.71 L198.60,1093.41 L200.60,1093.11 L202.60,1092.80 L204.60,1092.48 L206.60,1092.14 L208.60,1091.80 L210.60,1091.45 L212.60,1091.09 L214.60,1090.72 L216.60,1090.34 L218.60,1089.95 L220.60,1089.55 L222.60,1089.15 L224.60,1088.74 L226.60,1088.32 L228.60,1087.89 L230.60,1087.46 L232.60,1087.02 L234.60,1086.58 L236.60,1086.13 L238.60,1085.66 L240.60,1085.17 L242.60,1084.66 L244.60,1084.14 L246.60,1083.61 L248.60,1083.07 L250.60,1082.52 L252.60,1081.96 L254.60,1081.40 L256.60,1080.83 L258.60,1080.26 L260.60,1079.68 L262.60,1079.11 L264.60,1078.55 L266.60,1077.99 L268.60,1077.43 L270.60,1076.88 L272.60,1076.34 L274.60,1075.80 L276.60,1075.26 L278.60,1074.73 L280.60,1074.19 L282.60,1073.66 L284.60,1073.12 L286.60,1072.59 L288.60,1072.05 L290.60,1071.51 L292.60,1070.97 L294.60,1070.43 L296.60,1069.89 L298.60,1069.34 L300.60,1068.79 L302.60,1068.24 L304.60,1067.68 L306.60,1067.12 L308.60,1066.54 L310.60,1065.95 L312.60,1065.36 L314.60,1064.75 L316.60,1064.14 L318.60,1063.52 L320.60,1062.90 L322.60,1062.29 L324.60,1061.67 L326.60,1061.06 L328.60,1060.46 L330.60,1059.87 L332.60,1059.29 L334.60,1058.73 L336.60,1058.18 L338.60,1057.66 L340.60,1057.15 L342.60,1056.66 L344.60,1056.19 L346.60,1055.73 L348.60,1055.29 L350.60,1054.85 L352.60,1054.43 L354.60,1054.01 L356.60,1053.60 L358.60,1053.20 L360.60,1052.80 L362.60,1052.40 L364.60,1052.00 L366.60,1051.60 L368.60,1051.20 L370.60,1050.80 L372.60,1050.39 L374.60,1049.98 L376.60,1049.56 L378.60,1049.13 L380.60,1048.69 L382.60,1048.24 L384.60,1047.78 L386.60,1047.30 L388.60,1046.80 L390.60,1046.28 L392.60,1045.75 L394.60,1045.20 L396.60,1044.65 L398.60,1044.08 L400.60,1043.52 L402.60,1042.95 L404.60,1042.39 L406.60,1041.83 L408.60,1041.29 L410.60,1040.74 L412.60,1040.20 L414.60,1039.65 L416.60,1039.10 L418.60,1038.54 L420.60,1037.98 L422.60,1037.41 L424.60,1036.82 L426.60,1036.22 L428.60,1035.59 L430.60,1034.95 L432.60,1034.30 L434.60,1033.65 L436.60,1032.99 L438.60,1032.33 L440.60,1031.68 L442.60,1031.04 L444.60,1030.41 L446.60,1029.75 L448.60,1029.06 L450.60,1028.34 L452.60,1027.63 L454.60,1026.94 L456.60,1026.28 L458.60,1025.68 L460.60,1025.14 L462.60,1024.69 L464.60,1024.35 L466.60,1024.10 L468.60,1023.86 L470.60,1023.64 L472.60,1023.44 L474.60,1023.25 L476.60,1023.08 L478.60,1022.92 L480.60,1022.78 L482.60,1022.65 L484.60,1022.53 L486.60,1022.44 L488.60,1022.35 L490.60,1022.28 L492.60,1022.22 L494.60,1022.16 L496.60,1022.11 L498.60,1022.06 L500.60,1022.01 L502.60,1021.97 L504.60,1021.93 L506.60,1021.90 L508.60,1021.86 L510.60,1021.83 L512.60,1021.80 L514.60,1021.77 L516.60,1021.75 L518.60,1021.72 L520.60,1021.69 L522.60,1021.66 L524.60,1021.63 L526.60,1021.60 L528.60,1021.57 L530.60,1021.53 L532.60,1021.50 L534.60,1021.46 L536.60,1021.41 L538.60,1021.36 L540.60,1021.31 L542.60,1021.25 L544.60,1021.20 L546.60,1021.13 L548.60,1021.07 L550.60,1021.00 L552.60,1020.92 L554.60,1020.85 L556.60,1020.77 L558.60,1020.69 L560.60,1020.60 L562.60,1020.52 L564.60,1020.43 L566.60,1020.33 L568.60,1020.24 L570.60,1020.14 L572.60,1020.03 L574.60,1019.93 L576.60,1019.82 L578.60,1019.71 L580.60,1019.60 L582.60,1019.48 L584.60,1019.36 L586.60,1019.24 L588.60,1019.12 L590.60,1018.99 L592.60,1018.86 L594.60,1018.72 L596.60,1018.58 L598.60,1018.42 L600.60,1018.26 L602.60,1018.08 L604.60,1017.90 L606.60,1017.71 L608.60,1017.52 L610.60,1017.32 L612.60,1017.11 L614.60,1016.90 L616.60,1016.69 L618.60,1016.46 L620.60,1016.24 L622.60,1016.01 L624.60,1015.78 L626.60,1015.55 L627.00,1015.50" fill="none" stroke="#000" stroke-width="2.4" stroke-linejoin="round" stroke-linecap="round" />
<path d="M164.60,1121.00 L166.60,1120.34 L168.60,1119.68 L170.60,1119.02 L172.60,1118.35 L174.60,1117.69 L176.60,1117.02 L178.60,1116.35 L180.60,1115.68 L182.60,1115.01 L184.60,1114.34 L186.60,1113.66 L188.60,1112.99 L190.60,1112.31 L192.60,1111.63 L194.60,1110.95 L196.60,1110.26 L198.60,1109.58 L200.60,1108.89 L202.60,1108.21 L204.60,1107.53 L206.60,1106.86 L208.60,1106.18 L210.60,1105.51 L212.60,1104.84 L214.60,1104.16 L216.60,1103.48 L218.60,1102.79 L220.60,1102.10 L222.60,1101.41 L224.60,1100.70 L226.60,1099.99 L228.60,1099.26 L230.60,1098.52 L232.60,1097.77 L234.60,1097.01 L236.60,1096.23 L238.60,1095.41 L240.60,1094.57 L242.60,1093.70 L244.60,1092.81 L246.60,1091.90 L248.60,1090.98 L250.60,1090.06 L252.60,1089.13 L254.60,1088.20 L256.60,1087.27 L258.60,1086.36 L260.60,1085.46 L262.60,1084.57 L264.60,1083.71 L266.60,1082.88 L268.60,1082.08 L270.60,1081.31 L272.60,1080.58 L274.60,1079.86 L276.60,1079.17 L278.60,1078.49 L280.60,1077.83 L282.60,1077.18 L284.60,1076.54 L286.60,1075.92 L288.60,1075.29 L290.60,1074.68 L292.60,1074.07 L294.60,1073.45 L296.60,1072.84 L298.60,1072.23 L300.60,1071.61 L302.60,1070.98 L304.60,1070.35 L306.60,1069.70 L308.60,1069.05 L310.60,1068.38 L312.60,1067.70 L314.60,1067.02 L316.60,1066.33 L318.60,1065.64 L320.60,1064.95 L322.60,1064.27 L324.60,1063.59 L326.60,1062.92 L328.60,1062.26 L330.60,1061.61 L332.60,1060.97 L334.60,1060.36 L336.60,1059.76 L338.60,1059.19 L340.60,1058.64 L342.60,1058.11 L344.60,1057.60 L346.60,1057.10 L348.60,1056.62 L350.60,1056.16 L352.60,1055.70 L354.60,1055.25 L356.60,1054.82 L358.60,1054.38 L360.60,1053.96 L362.60,1053.53 L364.60,1053.11 L366.60,1052.69 L368.60,1052.27 L370.60,1051.84 L372.60,1051.41 L374.60,1050.97 L376.60,1050.52 L378.60,1050.07 L380.60,1049.60 L382.60,1049.11 L384.60,1048.62 L386.60,1048.10 L388.60,1047.57 L390.60,1047.01 L392.60,1046.43 L394.60,1045.84 L396.60,1045.23 L398.60,1044.62 L400.60,1044.01 L402.60,1043.41 L404.60,1042.81 L406.60,1042.23 L408.60,1041.66 L410.60,1041.09 L412.60,1040.54 L414.60,1039.98 L416.60,1039.42 L418.60,1038.86 L420.60,1038.29 L422.60,1037.71 L424.60,1037.12 L426.60,1036.51 L428.60,1035.88 L430.60,1035.24 L432.60,1034.59 L434.60,1033.94 L436.60,1033.28 L438.60,1032.63 L440.60,1031.98 L442.60,1031.34 L444.60,1030.71 L446.60,1030.05 L448.60,1029.35 L450.60,1028.63 L452.60,1027.91 L454.60,1027.21 L456.60,1026.55 L458.60,1025.94 L460.60,1025.41 L462.60,1024.98 L464.60,1024.65 L466.60,1024.42 L468.60,1024.20 L470.60,1024.00 L472.60,1023.82 L474.60,1023.65 L476.60,1023.50 L478.60,1023.36 L480.60,1023.23 L482.60,1023.12 L484.60,1023.02 L486.60,1022.93 L488.60,1022.85 L490.60,1022.78 L492.60,1022.72 L494.60,1022.66 L496.60,1022.61 L498.60,1022.56 L500.60,1022.52 L502.60,1022.48 L504.60,1022.44 L506.60,1022.40 L508.60,1022.37 L510.60,1022.34 L512.60,1022.31 L514.60,1022.28 L516.60,1022.25 L518.60,1022.22 L520.60,1022.20 L522.60,1022.17 L524.60,1022.14 L526.60,1022.11 L528.60,1022.07 L530.60,1022.04 L532.60,1022.00 L534.60,1021.96 L536.60,1021.91 L538.60,1021.86 L540.60,1021.81 L542.60,1021.75 L544.60,1021.69 L546.60,1021.63 L548.60,1021.56 L550.60,1021.49 L552.60,1021.42 L554.60,1021.34 L556.60,1021.26 L558.60,1021.17 L560.60,1021.09 L562.60,1020.99 L564.60,1020.90 L566.60,1020.80 L568.60,1020.70 L570.60,1020.60 L572.60,1020.49 L574.60,1020.38 L576.60,1020.27 L578.60,1020.15 L580.60,1020.03 L582.60,1019.91 L584.60,1019.79 L586.60,1019.66 L588.60,1019.53 L590.60,1019.40 L592.60,1019.26 L594.60,1019.11 L596.60,1018.95 L598.60,1018.79 L600.60,1018.61 L602.60,1018.42 L604.60,1018.23 L606.60,1018.02 L608.60,1017.81 L610.60,1017.59 L612.60,1017.37 L614.60,1017.14 L616.60,1016.90 L618.60,1016.66 L620.60,1016.41 L622.60,1016.16 L624.60,1015.91 L626.60,1015.65 L627.00,1015.60" fill="none" stroke="#000" stroke-width="2.4" stroke-linejoin="round" stroke-linecap="round" />
<path d="M478.8,1103 L511,1103 L511,1079 L536.3,1079 L536.3,1103.6 L578,1103.6 L578,1079 L602.9,1079 L602.9,1103.6 L644.5,1103.6" fill="none" stroke="#000" stroke-width="2.1" stroke-linejoin="round" stroke-linecap="round" stroke-linecap="butt" stroke-linejoin="miter"/>
<line x1="511.00" y1="1103.00" x2="511.00" y2="1141.90" stroke="#000" stroke-width="1.5" />
<line x1="535.20" y1="1103.60" x2="535.20" y2="1122.70" stroke="#000" stroke-width="1.5" />
<line x1="577.60" y1="1103.60" x2="577.60" y2="1141.90" stroke="#000" stroke-width="1.5" />
<line x1="490.00" y1="1080.30" x2="510.30" y2="1080.30" stroke="#000" stroke-width="1.0" />
<line x1="501.50" y1="1065.00" x2="501.50" y2="1074.60" stroke="#000" stroke-width="1.1" />
<path d="M501.50,1077.50 L499.55,1073.60 L503.45,1073.60 Z" fill="#000"/>
<line x1="501.50" y1="1114.40" x2="501.50" y2="1107.40" stroke="#000" stroke-width="1.1" />
<path d="M501.50,1104.50 L503.45,1108.40 L499.55,1108.40 Z" fill="#000"/>
<line x1="493.20" y1="1118.20" x2="506.60" y2="1118.20" stroke="#000" stroke-width="1.1" />
<path d="M509.50,1118.20 L505.60,1120.15 L505.60,1116.25 Z" fill="#000"/>
<line x1="554.00" y1="1118.20" x2="540.20" y2="1118.20" stroke="#000" stroke-width="1.1" />
<path d="M537.30,1118.20 L541.20,1116.25 L541.20,1120.15 Z" fill="#000"/>
<line x1="544.00" y1="1135.30" x2="514.90" y2="1135.30" stroke="#000" stroke-width="1.1" />
<path d="M512.00,1135.30 L515.90,1133.35 L515.90,1137.25 Z" fill="#000"/>
<line x1="544.00" y1="1135.30" x2="572.90" y2="1135.30" stroke="#000" stroke-width="1.1" />
<path d="M575.80,1135.30 L571.90,1137.25 L571.90,1133.35 Z" fill="#000"/>
<text x="494.90" y="1094.80" font-size="8.8" text-anchor="start" font-weight="normal" fill="#000" >P</text>
<text x="500.60" y="1096.60" font-size="5.46" text-anchor="start" font-weight="normal" fill="#000" >D</text>
<text x="516.60" y="1123.30" font-size="8.8" text-anchor="start" font-weight="normal" fill="#000" >T</text>
<text x="521.70" y="1125.10" font-size="5.46" text-anchor="start" font-weight="normal" fill="#000" >on</text>
<text x="539.20" y="1132.80" font-size="8.8" text-anchor="start" font-weight="normal" fill="#000" >T</text>
<line x1="164.60" y1="973.30" x2="164.60" y2="1143.15" stroke="#000" stroke-width="2.5" />
<line x1="163.35" y1="1141.90" x2="671.30" y2="1141.90" stroke="#000" stroke-width="2.5" />
<text x="152.70" y="977.20" font-size="9.9" text-anchor="end" font-weight="normal" fill="#000" >10</text>
<text x="152.70" y="1019.23" font-size="9.9" text-anchor="end" font-weight="normal" fill="#000" >1</text>
<text x="152.70" y="1061.25" font-size="9.9" text-anchor="end" font-weight="normal" fill="#000" >0.1</text>
<text x="152.70" y="1103.28" font-size="9.9" text-anchor="end" font-weight="normal" fill="#000" >0.01</text>
<text x="152.70" y="1145.30" font-size="9.9" text-anchor="end" font-weight="normal" fill="#000" >0.001</text>
<text x="164.00" y="1161.40" font-size="9.9" text-anchor="middle" font-weight="normal" fill="#000" >0.00001</text>
<text x="227.24" y="1161.40" font-size="9.9" text-anchor="middle" font-weight="normal" fill="#000" >0.0001</text>
<text x="290.47" y="1161.40" font-size="9.9" text-anchor="middle" font-weight="normal" fill="#000" >0.001</text>
<text x="353.71" y="1161.40" font-size="9.9" text-anchor="middle" font-weight="normal" fill="#000" >0.01</text>
<text x="416.95" y="1161.40" font-size="9.9" text-anchor="middle" font-weight="normal" fill="#000" >0.1</text>
<text x="480.19" y="1161.40" font-size="9.9" text-anchor="middle" font-weight="normal" fill="#000" >1</text>
<text x="543.42" y="1161.40" font-size="9.9" text-anchor="middle" font-weight="normal" fill="#000" >10</text>
<text x="606.66" y="1161.40" font-size="9.9" text-anchor="middle" font-weight="normal" fill="#000" >100</text>
<text x="669.90" y="1161.40" font-size="9.9" text-anchor="middle" font-weight="normal" fill="#000" >1000</text>
<text x="172.00" y="989.50" font-size="9.5" text-anchor="start" font-weight="normal" fill="#000" textLength="21.20" lengthAdjust="spacingAndGlyphs" >D=T</text>
<text x="193.90" y="991.50" font-size="5.89" text-anchor="start" font-weight="normal" fill="#000" textLength="5.50" lengthAdjust="spacingAndGlyphs" >on</text>
<text x="199.90" y="989.50" font-size="9.5" text-anchor="start" font-weight="normal" fill="#000" textLength="6.60" lengthAdjust="spacingAndGlyphs" >/T</text>
<text x="172.00" y="1003.70" font-size="9.5" text-anchor="start" font-weight="normal" fill="#000" textLength="5.30" lengthAdjust="spacingAndGlyphs" >T</text>
<text x="177.70" y="1005.70" font-size="5.89" text-anchor="start" font-weight="normal" fill="#000" textLength="8.50" lengthAdjust="spacingAndGlyphs" >J,PK</text>
<text x="186.60" y="1003.70" font-size="9.5" text-anchor="start" font-weight="normal" fill="#000" textLength="13.70" lengthAdjust="spacingAndGlyphs" >=T</text>
<text x="201.40" y="1005.70" font-size="5.89" text-anchor="start" font-weight="normal" fill="#000" textLength="4.50" lengthAdjust="spacingAndGlyphs" >A</text>
<text x="206.40" y="1003.70" font-size="9.5" text-anchor="start" font-weight="normal" fill="#000" textLength="12.50" lengthAdjust="spacingAndGlyphs" >+P</text>
<text x="219.40" y="1005.70" font-size="5.89" text-anchor="start" font-weight="normal" fill="#000" textLength="8.30" lengthAdjust="spacingAndGlyphs" >DM</text>
<text x="228.20" y="1003.70" font-size="9.5" text-anchor="start" font-weight="normal" fill="#000" textLength="9.30" lengthAdjust="spacingAndGlyphs" >.Z</text>
<text x="238.00" y="1005.70" font-size="5.89" text-anchor="start" font-weight="normal" fill="#000" textLength="10.10" lengthAdjust="spacingAndGlyphs" >θJA</text>
<text x="248.60" y="1003.70" font-size="9.5" text-anchor="start" font-weight="normal" fill="#000" textLength="9.30" lengthAdjust="spacingAndGlyphs" >.R</text>
<text x="258.40" y="1005.70" font-size="5.89" text-anchor="start" font-weight="normal" fill="#000" textLength="11.00" lengthAdjust="spacingAndGlyphs" >θJA</text>
<text x="172.00" y="1017.80" font-size="9.5" text-anchor="start" font-weight="normal" fill="#000" textLength="5.30" lengthAdjust="spacingAndGlyphs" >R</text>
<text x="177.70" y="1019.80" font-size="5.89" text-anchor="start" font-weight="normal" fill="#000" textLength="11.00" lengthAdjust="spacingAndGlyphs" >θJA</text>
<text x="189.20" y="1017.80" font-size="9.5" text-anchor="start" font-weight="normal" fill="#000" textLength="22.60" lengthAdjust="spacingAndGlyphs" >=100</text>
<text x="215.40" y="1015.40" font-size="7.12" text-anchor="start" font-weight="normal" fill="#000" >°</text>
<text x="221.10" y="1017.80" font-size="9.5" text-anchor="start" font-weight="normal" fill="#000" textLength="19.00" lengthAdjust="spacingAndGlyphs" >C/W</text>
<text x="312.20" y="989.10" font-size="9.5" text-anchor="start" font-weight="normal" fill="#000" textLength="85.20" lengthAdjust="spacingAndGlyphs" >In descending order</text>
<text x="312.20" y="1000.40" font-size="9.5" text-anchor="start" font-weight="normal" fill="#000" textLength="194.00" lengthAdjust="spacingAndGlyphs" >D=0.5, 0.3, 0.1, 0.05, 0.02, 0.01, single pulse</text>
<text x="257.00" y="1113.00" font-size="9.5" text-anchor="start" font-weight="normal" fill="#000" textLength="54.30" lengthAdjust="spacingAndGlyphs" >Single Pulse</text>
<text x="0" y="0" text-anchor="middle" transform="translate(69.50,1064.30) rotate(-90)"><tspan font-size="14.40" dy="0">Z</tspan><tspan font-size="8.64" dy="2.5">θJA</tspan><tspan font-size="14.40" dy="-2.5">Normalized Transient</tspan></text>
<text x="0" y="0" text-anchor="middle" transform="translate(92.50,1064.20) rotate(-90)"><tspan font-size="14.40" dy="0">Thermal Resistance</tspan></text>
<text x="349.40" y="1185.30" font-size="14.4" text-anchor="start" font-weight="normal" fill="#000" >Pulse Width (s)</text>
</svg>
</body></html>
